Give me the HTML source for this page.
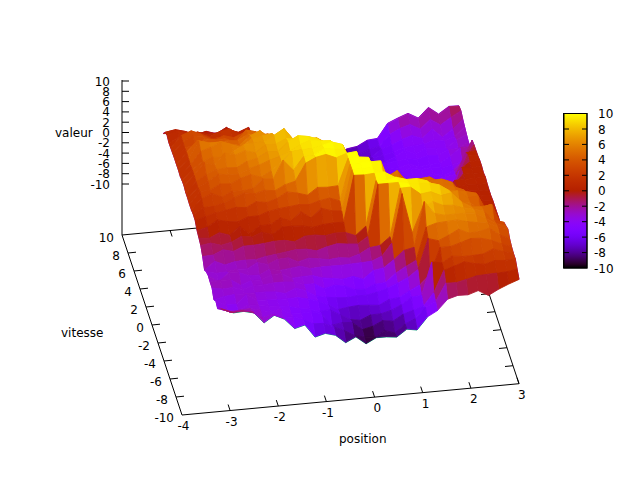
<!DOCTYPE html>
<html><head><meta charset="utf-8"><title>valeur</title>
<style>html,body{margin:0;padding:0;background:#fff}svg{display:block}
.ax line,.ax rect{stroke:#000;stroke-width:1}
.ax text{font-family:"DejaVu Sans","Liberation Sans",sans-serif;font-size:12px;fill:#000;stroke:none}
.sf polygon{stroke-width:0.9;stroke-linejoin:round}
</style></head><body>
<svg width="640" height="480" viewBox="0 0 640 480">
<defs><linearGradient id="pg" x1="0" y1="0" x2="0" y2="1"><stop offset="0.000" stop-color="#ffff00"/><stop offset="0.025" stop-color="#fcec00"/><stop offset="0.050" stop-color="#f9db00"/><stop offset="0.075" stop-color="#f5ca00"/><stop offset="0.100" stop-color="#f2ba00"/><stop offset="0.125" stop-color="#efab00"/><stop offset="0.150" stop-color="#eb9d00"/><stop offset="0.175" stop-color="#e88f00"/><stop offset="0.200" stop-color="#e48300"/><stop offset="0.225" stop-color="#e07700"/><stop offset="0.250" stop-color="#dd6c00"/><stop offset="0.275" stop-color="#d96100"/><stop offset="0.300" stop-color="#d55700"/><stop offset="0.325" stop-color="#d24e00"/><stop offset="0.350" stop-color="#ce4600"/><stop offset="0.375" stop-color="#ca3e00"/><stop offset="0.400" stop-color="#c63700"/><stop offset="0.425" stop-color="#c13000"/><stop offset="0.450" stop-color="#bd2a00"/><stop offset="0.475" stop-color="#b92500"/><stop offset="0.500" stop-color="#b42000"/><stop offset="0.525" stop-color="#b01b28"/><stop offset="0.550" stop-color="#ab174f"/><stop offset="0.575" stop-color="#a61474"/><stop offset="0.600" stop-color="#a11096"/><stop offset="0.625" stop-color="#9c0db4"/><stop offset="0.650" stop-color="#970bce"/><stop offset="0.675" stop-color="#9109e3"/><stop offset="0.700" stop-color="#8c07f3"/><stop offset="0.725" stop-color="#8605fc"/><stop offset="0.750" stop-color="#8004ff"/><stop offset="0.775" stop-color="#7903fc"/><stop offset="0.800" stop-color="#7202f3"/><stop offset="0.825" stop-color="#6b01e3"/><stop offset="0.850" stop-color="#6301ce"/><stop offset="0.875" stop-color="#5a00b4"/><stop offset="0.900" stop-color="#510096"/><stop offset="0.925" stop-color="#460074"/><stop offset="0.950" stop-color="#39004f"/><stop offset="0.975" stop-color="#280028"/><stop offset="1.000" stop-color="#000000"/></linearGradient></defs>
<rect width="640" height="480" fill="#fff"/>
<g class="ax"><line x1="122.0" y1="235.0" x2="459.0" y2="203.7"/>
<line x1="459.0" y1="203.7" x2="519.0" y2="383.7"/>
<line x1="170.1" y1="230.5" x2="172.1" y2="236.5"/>
<line x1="218.3" y1="226.1" x2="220.3" y2="232.1"/>
<line x1="266.4" y1="221.6" x2="268.4" y2="227.6"/>
<line x1="314.6" y1="217.1" x2="316.6" y2="223.1"/>
<line x1="362.7" y1="212.6" x2="364.7" y2="218.6"/>
<line x1="410.9" y1="208.2" x2="412.9" y2="214.2"/>
<line x1="513.0" y1="365.7" x2="505.0" y2="366.5"/>
<line x1="507.0" y1="347.7" x2="499.0" y2="348.5"/>
<line x1="501.0" y1="329.7" x2="493.0" y2="330.5"/>
<line x1="495.0" y1="311.7" x2="487.0" y2="312.5"/>
<line x1="489.0" y1="293.7" x2="481.0" y2="294.5"/>
<line x1="483.0" y1="275.7" x2="475.0" y2="276.5"/>
<line x1="477.0" y1="257.7" x2="469.0" y2="258.5"/>
<line x1="471.0" y1="239.7" x2="463.0" y2="240.5"/>
<line x1="465.0" y1="221.7" x2="457.0" y2="222.5"/></g>
<g class="sf"><polyline points="163.3,133.2 173.5,133.2 183.7,133.2 193.9,133.4 204.1,133.2 214.3,133.2 224.5,133.2 234.7,133.2 244.9,133.2 255.1,155.3 265.3,154.3 275.5,155.9 285.7,156.1 295.9,156.8 306.1,159.7 316.3,158.9 326.5,157.0 336.7,154.9 346.8,148.8 357.0,146.4 367.2,140.2 377.4,138.4 387.6,123.3 397.8,118.0 408.0,113.3 418.2,118.0 428.4,107.4 438.6,114.0 448.8,106.4 459.0,105.7" fill="none" stroke="#9400d3" stroke-width="1"/>
<polyline points="223.3,309.4 221.5,309.1 219.6,308.0 217.7,308.6 215.8,300.7 214.0,299.9 212.1,288.0 210.2,282.1 208.3,275.7 206.5,272.1 204.6,270.0 202.7,256.5 200.8,245.4 199.0,238.1 197.1,230.5 195.2,220.4 193.3,214.4 191.5,210.1 189.6,204.6 187.7,198.2 185.8,192.7 184.0,185.7 182.1,180.5 180.2,176.1 178.3,169.6 176.5,164.5 174.6,158.6 172.7,153.3 170.8,148.0 169.0,143.0 167.1,135.3 165.2,132.3 163.3,133.6" fill="none" stroke="#9400d3" stroke-width="1"/>
<polyline points="519.0,279.4 517.1,269.2 515.3,259.0 513.4,253.3 511.5,246.6 509.6,238.7 507.8,228.9 505.9,225.9 504.0,222.4 502.1,228.5 500.3,222.9 498.4,217.0 496.5,211.6 494.6,205.9 492.8,200.5 490.9,195.7 489.0,189.9 487.1,183.6 485.3,177.0 483.4,172.7 481.5,165.7 479.6,160.0 477.8,155.8 475.9,150.4 474.0,144.9 472.1,140.2 470.3,146.6 468.4,142.0 466.5,134.6 464.6,126.9 462.8,119.5 460.9,110.9 459.0,106.1" fill="none" stroke="#9400d3" stroke-width="1"/>
<polyline points="223.3,309.8 233.5,312.9 243.7,311.4 253.9,312.9 264.1,322.9 274.3,315.3 284.5,319.2 294.7,328.6 304.9,325.0 315.1,337.1 325.3,333.4 335.5,335.3 345.7,342.7 355.9,336.9 366.1,343.8 376.3,337.7 386.5,336.9 396.7,337.1 406.8,329.2 417.0,330.0 427.2,317.4" fill="none" stroke="#009e73" stroke-width="1"/>
<polygon points="450.7,117.5 460.9,110.9 459.0,106.1 448.8,106.8" fill="#a91660" stroke="#a91660"/>
<polygon points="440.5,125.0 450.7,117.5 448.8,106.8 438.6,114.4" fill="#a0109e" stroke="#a0109e"/>
<polygon points="430.3,119.5 440.5,125.0 438.6,114.4 428.4,107.8" fill="#a0109c" stroke="#a0109c"/>
<polygon points="420.1,129.0 430.3,119.5 428.4,107.8 418.2,118.4" fill="#9e0fa8" stroke="#9e0fa8"/>
<polygon points="409.9,124.5 420.1,129.0 418.2,118.4 408.0,113.7" fill="#9b0dbc" stroke="#9b0dbc"/>
<polygon points="399.7,128.6 409.9,124.5 408.0,113.7 397.8,118.4" fill="#9d0eb1" stroke="#9d0eb1"/>
<polygon points="389.5,134.5 399.7,128.6 397.8,118.4 387.6,123.7" fill="#940ad9" stroke="#940ad9"/>
<polygon points="379.3,146.5 389.5,134.5 387.6,123.7 377.4,138.8" fill="#8104ff" stroke="#8104ff"/>
<polygon points="369.1,149.2 379.3,146.5 377.4,138.8 367.2,140.6" fill="#6e02ec" stroke="#6e02ec"/>
<polygon points="358.9,154.4 369.1,149.2 367.2,140.6 357.0,146.8" fill="#6501d5" stroke="#6501d5"/>
<polygon points="348.7,157.4 358.9,154.4 357.0,146.8 346.8,149.2" fill="#5b01b6" stroke="#5b01b6"/>
<polygon points="338.5,162.3 348.7,157.4 346.8,149.2 336.7,155.3" fill="#4f0090" stroke="#4f0090"/>
<polygon points="328.3,163.5 338.5,162.3 336.7,155.3 326.5,157.4" fill="#43006d" stroke="#43006d"/>
<polygon points="318.1,162.8 328.3,163.5 326.5,157.4 316.3,159.3" fill="#43006a" stroke="#43006a"/>
<polygon points="307.9,163.2 318.1,162.8 316.3,159.3 306.1,160.1" fill="#44006f" stroke="#44006f"/>
<polygon points="297.7,163.7 307.9,163.2 306.1,160.1 295.9,157.2" fill="#4a0081" stroke="#4a0081"/>
<polygon points="287.5,155.6 297.7,163.7 295.9,157.2 285.7,156.5" fill="#5800af" stroke="#5800af"/>
<polygon points="277.4,162.7 287.5,155.6 285.7,156.5 275.5,156.3" fill="#5d01be" stroke="#5d01be"/>
<polygon points="267.2,155.2 277.4,162.7 275.5,156.3 265.3,154.7" fill="#6201cd" stroke="#6201cd"/>
<polygon points="257.0,156.9 267.2,155.2 265.3,154.7 255.1,155.7" fill="#6a01e2" stroke="#6a01e2"/>
<polygon points="246.8,131.2 257.0,156.9 255.1,155.7 244.9,133.6" fill="#8a06f6" stroke="#8a06f6"/>
<polygon points="236.6,133.2 246.8,131.2 244.9,133.6 234.7,133.6" fill="#a41285" stroke="#a41285"/>
<polygon points="226.4,127.4 236.6,133.2 234.7,133.6 224.5,133.6" fill="#a7146b" stroke="#a7146b"/>
<polygon points="216.2,133.8 226.4,127.4 224.5,133.6 214.3,133.6" fill="#a91660" stroke="#a91660"/>
<polygon points="206.0,131.3 216.2,133.8 214.3,133.6 204.1,133.6" fill="#a91560" stroke="#a91560"/>
<polygon points="195.8,135.0 206.0,131.3 204.1,133.6 193.9,133.8" fill="#aa1658" stroke="#aa1658"/>
<polygon points="185.6,131.5 195.8,135.0 193.9,133.8 183.7,133.6" fill="#ac184b" stroke="#ac184b"/>
<polygon points="175.4,129.7 185.6,131.5 183.7,133.6 173.5,133.6" fill="#b01b27" stroke="#b01b27"/>
<polygon points="165.2,132.3 175.4,129.7 173.5,133.6 163.3,133.6" fill="#b11d1c" stroke="#b11d1c"/>
<polygon points="452.6,129.2 462.8,119.5 460.9,110.9 450.7,117.5" fill="#a3118e" stroke="#a3118e"/>
<polygon points="442.4,137.2 452.6,129.2 450.7,117.5 440.5,125.0" fill="#940ad9" stroke="#940ad9"/>
<polygon points="432.2,129.1 442.4,137.2 440.5,125.0 430.3,119.5" fill="#950ad5" stroke="#950ad5"/>
<polygon points="422.0,138.6 432.2,129.1 430.3,119.5 420.1,129.0" fill="#940ad8" stroke="#940ad8"/>
<polygon points="411.8,135.5 422.0,138.6 420.1,129.0 409.9,124.5" fill="#9008e6" stroke="#9008e6"/>
<polygon points="401.6,139.5 411.8,135.5 409.9,124.5 399.7,128.6" fill="#9209e1" stroke="#9209e1"/>
<polygon points="391.4,145.3 401.6,139.5 399.7,128.6 389.5,134.5" fill="#8906f7" stroke="#8906f7"/>
<polygon points="381.2,149.1 391.4,145.3 389.5,134.5 379.3,146.5" fill="#7b03fd" stroke="#7b03fd"/>
<polygon points="371.0,157.7 381.2,149.1 379.3,146.5 369.1,149.2" fill="#6b01e4" stroke="#6b01e4"/>
<polygon points="360.8,157.4 371.0,157.7 369.1,149.2 358.9,154.4" fill="#6101ca" stroke="#6101ca"/>
<polygon points="350.6,160.1 360.8,157.4 358.9,154.4 348.7,157.4" fill="#5c01b9" stroke="#5c01b9"/>
<polygon points="340.4,166.7 350.6,160.1 348.7,157.4 338.5,162.3" fill="#4f0091" stroke="#4f0091"/>
<polygon points="330.2,163.7 340.4,166.7 338.5,162.3 328.3,163.5" fill="#49007d" stroke="#49007d"/>
<polygon points="320.0,164.9 330.2,163.7 328.3,163.5 318.1,162.8" fill="#4e008e" stroke="#4e008e"/>
<polygon points="309.8,162.5 320.0,164.9 318.1,162.8 307.9,163.2" fill="#53009f" stroke="#53009f"/>
<polygon points="299.6,160.6 309.8,162.5 307.9,163.2 297.7,163.7" fill="#5a00b4" stroke="#5a00b4"/>
<polygon points="289.4,158.4 299.6,160.6 297.7,163.7 287.5,155.6" fill="#6701d9" stroke="#6701d9"/>
<polygon points="279.2,158.3 289.4,158.4 287.5,155.6 277.4,162.7" fill="#6c01e6" stroke="#6c01e6"/>
<polygon points="269.0,154.8 279.2,158.3 277.4,162.7 267.2,155.2" fill="#7202f2" stroke="#7202f2"/>
<polygon points="258.8,150.3 269.0,154.8 267.2,155.2 257.0,156.9" fill="#7d04ff" stroke="#7d04ff"/>
<polygon points="248.6,127.4 258.8,150.3 257.0,156.9 246.8,131.2" fill="#9c0db5" stroke="#9c0db5"/>
<polygon points="238.4,132.3 248.6,127.4 246.8,131.2 236.6,133.2" fill="#b21d18" stroke="#b21d18"/>
<polygon points="228.3,129.7 238.4,132.3 236.6,133.2 226.4,127.4" fill="#b41f04" stroke="#b41f04"/>
<polygon points="218.1,132.7 228.3,129.7 226.4,127.4 216.2,133.8" fill="#b52100" stroke="#b52100"/>
<polygon points="207.9,134.6 218.1,132.7 216.2,133.8 206.0,131.3" fill="#b31f0c" stroke="#b31f0c"/>
<polygon points="197.7,132.1 207.9,134.6 206.0,131.3 195.8,135.0" fill="#b42000" stroke="#b42000"/>
<polygon points="187.5,134.1 197.7,132.1 195.8,135.0 185.6,131.5" fill="#b62200" stroke="#b62200"/>
<polygon points="177.3,131.2 187.5,134.1 185.6,131.5 175.4,129.7" fill="#ba2700" stroke="#ba2700"/>
<polygon points="167.1,135.3 177.3,131.2 175.4,129.7 165.2,132.3" fill="#bb2800" stroke="#bb2800"/>
<polygon points="454.4,136.8 464.6,126.9 462.8,119.5 452.6,129.2" fill="#9c0db4" stroke="#9c0db4"/>
<polygon points="444.2,141.1 454.4,136.8 452.6,129.2 442.4,137.2" fill="#8d07ef" stroke="#8d07ef"/>
<polygon points="434.0,140.0 444.2,141.1 442.4,137.2 432.2,129.1" fill="#8e07ee" stroke="#8e07ee"/>
<polygon points="423.8,144.3 434.0,140.0 432.2,129.1 422.0,138.6" fill="#8d07ef" stroke="#8d07ef"/>
<polygon points="413.6,145.7 423.8,144.3 422.0,138.6 411.8,135.5" fill="#8806f8" stroke="#8806f8"/>
<polygon points="403.5,147.7 413.6,145.7 411.8,135.5 401.6,139.5" fill="#8806f9" stroke="#8806f9"/>
<polygon points="393.3,151.9 403.5,147.7 401.6,139.5 391.4,145.3" fill="#8104ff" stroke="#8104ff"/>
<polygon points="383.1,155.6 393.3,151.9 391.4,145.3 381.2,149.1" fill="#7803fb" stroke="#7803fb"/>
<polygon points="372.9,158.0 383.1,155.6 381.2,149.1 371.0,157.7" fill="#6e02eb" stroke="#6e02eb"/>
<polygon points="362.7,168.1 372.9,158.0 371.0,157.7 360.8,157.4" fill="#6101ca" stroke="#6101ca"/>
<polygon points="352.5,167.9 362.7,168.1 360.8,157.4 350.6,160.1" fill="#5a00b4" stroke="#5a00b4"/>
<polygon points="342.3,174.0 352.5,167.9 350.6,160.1 340.4,166.7" fill="#4f0092" stroke="#4f0092"/>
<polygon points="332.1,169.9 342.3,174.0 340.4,166.7 330.2,163.7" fill="#4e008c" stroke="#4e008c"/>
<polygon points="321.9,168.1 332.1,169.9 330.2,163.7 320.0,164.9" fill="#5800af" stroke="#5800af"/>
<polygon points="311.7,161.2 321.9,168.1 320.0,164.9 309.8,162.5" fill="#6401d2" stroke="#6401d2"/>
<polygon points="301.5,157.7 311.7,161.2 309.8,162.5 299.6,160.6" fill="#7202f2" stroke="#7202f2"/>
<polygon points="291.3,156.4 301.5,157.7 299.6,160.6 289.4,158.4" fill="#7a03fd" stroke="#7a03fd"/>
<polygon points="281.1,160.8 291.3,156.4 289.4,158.4 279.2,158.3" fill="#7c03fe" stroke="#7c03fe"/>
<polygon points="270.9,163.3 281.1,160.8 279.2,158.3 269.0,154.8" fill="#7c03fe" stroke="#7c03fe"/>
<polygon points="260.7,148.2 270.9,163.3 269.0,154.8 258.8,150.3" fill="#8b07f4" stroke="#8b07f4"/>
<polygon points="250.5,134.0 260.7,148.2 258.8,150.3 248.6,127.4" fill="#aa1658" stroke="#aa1658"/>
<polygon points="240.3,134.9 250.5,134.0 248.6,127.4 238.4,132.3" fill="#b92600" stroke="#b92600"/>
<polygon points="230.1,129.2 240.3,134.9 238.4,132.3 228.3,129.7" fill="#bc2900" stroke="#bc2900"/>
<polygon points="219.9,131.6 230.1,129.2 228.3,129.7 218.1,132.7" fill="#bf2d00" stroke="#bf2d00"/>
<polygon points="209.7,136.8 219.9,131.6 218.1,132.7 207.9,134.6" fill="#bb2800" stroke="#bb2800"/>
<polygon points="199.5,133.7 209.7,136.8 207.9,134.6 197.7,132.1" fill="#bc2900" stroke="#bc2900"/>
<polygon points="189.3,136.8 199.5,133.7 197.7,132.1 187.5,134.1" fill="#be2c00" stroke="#be2c00"/>
<polygon points="179.1,136.9 189.3,136.8 187.5,134.1 177.3,131.2" fill="#bf2d00" stroke="#bf2d00"/>
<polygon points="169.0,143.0 179.1,136.9 177.3,131.2 167.1,135.3" fill="#bd2a00" stroke="#bd2a00"/>
<polygon points="456.3,139.9 466.5,134.6 464.6,126.9 454.4,136.8" fill="#9b0dbd" stroke="#9b0dbd"/>
<polygon points="446.1,148.6 456.3,139.9 454.4,136.8 444.2,141.1" fill="#8e07ee" stroke="#8e07ee"/>
<polygon points="435.9,148.4 446.1,148.6 444.2,141.1 434.0,140.0" fill="#8906f7" stroke="#8906f7"/>
<polygon points="425.7,148.3 435.9,148.4 434.0,140.0 423.8,144.3" fill="#8906f7" stroke="#8906f7"/>
<polygon points="415.5,153.7 425.7,148.3 423.8,144.3 413.6,145.7" fill="#8505fc" stroke="#8505fc"/>
<polygon points="405.3,150.3 415.5,153.7 413.6,145.7 403.5,147.7" fill="#8405fd" stroke="#8405fd"/>
<polygon points="395.1,156.8 405.3,150.3 403.5,147.7 393.3,151.9" fill="#8104ff" stroke="#8104ff"/>
<polygon points="384.9,162.6 395.1,156.8 393.3,151.9 383.1,155.6" fill="#7703f9" stroke="#7703f9"/>
<polygon points="374.7,166.5 384.9,162.6 383.1,155.6 372.9,158.0" fill="#6e02eb" stroke="#6e02eb"/>
<polygon points="364.5,166.5 374.7,166.5 372.9,158.0 362.7,168.1" fill="#6501d4" stroke="#6501d4"/>
<polygon points="354.3,174.6 364.5,166.5 362.7,168.1 352.5,167.9" fill="#5900b1" stroke="#5900b1"/>
<polygon points="344.2,170.1 354.3,174.6 352.5,167.9 342.3,174.0" fill="#5400a0" stroke="#5400a0"/>
<polygon points="334.0,173.2 344.2,170.1 342.3,174.0 332.1,169.9" fill="#5700aa" stroke="#5700aa"/>
<polygon points="323.8,168.9 334.0,173.2 332.1,169.9 321.9,168.1" fill="#6001c7" stroke="#6001c7"/>
<polygon points="313.6,154.8 323.8,168.9 321.9,168.1 311.7,161.2" fill="#7703fa" stroke="#7703fa"/>
<polygon points="303.4,156.1 313.6,154.8 311.7,161.2 301.5,157.7" fill="#8806fa" stroke="#8806fa"/>
<polygon points="293.2,154.1 303.4,156.1 301.5,157.7 291.3,156.4" fill="#8d07f0" stroke="#8d07f0"/>
<polygon points="283.0,151.1 293.2,154.1 291.3,156.4 281.1,160.8" fill="#9008e7" stroke="#9008e7"/>
<polygon points="272.8,156.6 283.0,151.1 281.1,160.8 270.9,163.3" fill="#8d07f0" stroke="#8d07f0"/>
<polygon points="262.6,150.8 272.8,156.6 270.9,163.3 260.7,148.2" fill="#960bd2" stroke="#960bd2"/>
<polygon points="252.4,134.1 262.6,150.8 260.7,148.2 250.5,134.0" fill="#b11c1e" stroke="#b11c1e"/>
<polygon points="242.2,134.3 252.4,134.1 250.5,134.0 240.3,134.9" fill="#bf2d00" stroke="#bf2d00"/>
<polygon points="232.0,138.4 242.2,134.3 240.3,134.9 230.1,129.2" fill="#c13000" stroke="#c13000"/>
<polygon points="221.8,137.1 232.0,138.4 230.1,129.2 219.9,131.6" fill="#c33300" stroke="#c33300"/>
<polygon points="211.6,138.8 221.8,137.1 219.9,131.6 209.7,136.8" fill="#c13000" stroke="#c13000"/>
<polygon points="201.4,134.2 211.6,138.8 209.7,136.8 199.5,133.7" fill="#c33300" stroke="#c33300"/>
<polygon points="191.2,130.9 201.4,134.2 199.5,133.7 189.3,136.8" fill="#c83b00" stroke="#c83b00"/>
<polygon points="181.0,135.8 191.2,130.9 189.3,136.8 179.1,136.9" fill="#c73a00" stroke="#c73a00"/>
<polygon points="170.8,148.0 181.0,135.8 179.1,136.9 169.0,143.0" fill="#bf2d00" stroke="#bf2d00"/>
<polygon points="458.2,148.6 468.4,142.0 466.5,134.6 456.3,139.9" fill="#980cc8" stroke="#980cc8"/>
<polygon points="448.0,149.8 458.2,148.6 456.3,139.9 446.1,148.6" fill="#8f08eb" stroke="#8f08eb"/>
<polygon points="437.8,155.5 448.0,149.8 446.1,148.6 435.9,148.4" fill="#8806f9" stroke="#8806f9"/>
<polygon points="427.6,155.6 437.8,155.5 435.9,148.4 425.7,148.3" fill="#8706fa" stroke="#8706fa"/>
<polygon points="417.4,159.3 427.6,155.6 425.7,148.3 415.5,153.7" fill="#8405fd" stroke="#8405fd"/>
<polygon points="407.2,158.7 417.4,159.3 415.5,153.7 405.3,150.3" fill="#8305fe" stroke="#8305fe"/>
<polygon points="397.0,161.0 407.2,158.7 405.3,150.3 395.1,156.8" fill="#8205fe" stroke="#8205fe"/>
<polygon points="386.8,163.2 397.0,161.0 395.1,156.8 384.9,162.6" fill="#7a03fd" stroke="#7a03fd"/>
<polygon points="376.6,162.6 386.8,163.2 384.9,162.6 374.7,166.5" fill="#7502f8" stroke="#7502f8"/>
<polygon points="366.4,172.5 376.6,162.6 374.7,166.5 364.5,166.5" fill="#6f02ed" stroke="#6f02ed"/>
<polygon points="356.2,175.4 366.4,172.5 364.5,166.5 354.3,174.6" fill="#6201cc" stroke="#6201cc"/>
<polygon points="346.0,174.2 356.2,175.4 354.3,174.6 344.2,170.1" fill="#6101c9" stroke="#6101c9"/>
<polygon points="335.8,174.6 346.0,174.2 344.2,170.1 334.0,173.2" fill="#6601d6" stroke="#6601d6"/>
<polygon points="325.6,166.1 335.8,174.6 334.0,173.2 323.8,168.9" fill="#6f02ed" stroke="#6f02ed"/>
<polygon points="315.4,157.2 325.6,166.1 323.8,168.9 313.6,154.8" fill="#8906f8" stroke="#8906f8"/>
<polygon points="305.2,153.6 315.4,157.2 313.6,154.8 303.4,156.1" fill="#980cc7" stroke="#980cc7"/>
<polygon points="295.0,151.4 305.2,153.6 303.4,156.1 293.2,154.1" fill="#9e0eac" stroke="#9e0eac"/>
<polygon points="284.9,153.5 295.0,151.4 293.2,154.1 283.0,151.1" fill="#a21191" stroke="#a21191"/>
<polygon points="274.7,152.7 284.9,153.5 283.0,151.1 272.8,156.6" fill="#a21192" stroke="#a21192"/>
<polygon points="264.5,145.7 274.7,152.7 272.8,156.6 262.6,150.8" fill="#a81569" stroke="#a81569"/>
<polygon points="254.3,136.7 264.5,145.7 262.6,150.8 252.4,134.1" fill="#bb2700" stroke="#bb2700"/>
<polygon points="244.1,132.5 254.3,136.7 252.4,134.1 242.2,134.3" fill="#c83c00" stroke="#c83c00"/>
<polygon points="233.9,137.7 244.1,132.5 242.2,134.3 232.0,138.4" fill="#c83b00" stroke="#c83b00"/>
<polygon points="223.7,135.7 233.9,137.7 232.0,138.4 221.8,137.1" fill="#c73900" stroke="#c73900"/>
<polygon points="213.5,140.7 223.7,135.7 221.8,137.1 211.6,138.8" fill="#c73900" stroke="#c73900"/>
<polygon points="203.3,136.4 213.5,140.7 211.6,138.8 201.4,134.2" fill="#c93e00" stroke="#c93e00"/>
<polygon points="193.1,135.8 203.3,136.4 201.4,134.2 191.2,130.9" fill="#d04a00" stroke="#d04a00"/>
<polygon points="182.9,142.0 193.1,135.8 191.2,130.9 181.0,135.8" fill="#ce4800" stroke="#ce4800"/>
<polygon points="172.7,153.3 182.9,142.0 181.0,135.8 170.8,148.0" fill="#c23200" stroke="#c23200"/>
<polygon points="460.1,147.7 470.3,146.6 468.4,142.0 458.2,148.6" fill="#9a0cc1" stroke="#9a0cc1"/>
<polygon points="449.9,156.6 460.1,147.7 458.2,148.6 448.0,149.8" fill="#9209e0" stroke="#9209e0"/>
<polygon points="439.7,163.2 449.9,156.6 448.0,149.8 437.8,155.5" fill="#8806f9" stroke="#8806f9"/>
<polygon points="429.5,164.5 439.7,163.2 437.8,155.5 427.6,155.6" fill="#8204ff" stroke="#8204ff"/>
<polygon points="419.3,166.9 429.5,164.5 427.6,155.6 417.4,159.3" fill="#8004ff" stroke="#8004ff"/>
<polygon points="409.1,164.0 419.3,166.9 417.4,159.3 407.2,158.7" fill="#8004ff" stroke="#8004ff"/>
<polygon points="398.9,168.0 409.1,164.0 407.2,158.7 397.0,161.0" fill="#8104ff" stroke="#8104ff"/>
<polygon points="388.7,169.3 398.9,168.0 397.0,161.0 386.8,163.2" fill="#7d04ff" stroke="#7d04ff"/>
<polygon points="378.5,173.5 388.7,169.3 386.8,163.2 376.6,162.6" fill="#7b03fe" stroke="#7b03fe"/>
<polygon points="368.3,178.4 378.5,173.5 376.6,162.6 366.4,172.5" fill="#7102f1" stroke="#7102f1"/>
<polygon points="358.1,176.1 368.3,178.4 366.4,172.5 356.2,175.4" fill="#6901df" stroke="#6901df"/>
<polygon points="347.9,178.0 358.1,176.1 356.2,175.4 346.0,174.2" fill="#6b01e4" stroke="#6b01e4"/>
<polygon points="337.7,179.3 347.9,178.0 346.0,174.2 335.8,174.6" fill="#6c01e6" stroke="#6c01e6"/>
<polygon points="327.5,160.4 337.7,179.3 335.8,174.6 325.6,166.1" fill="#8004ff" stroke="#8004ff"/>
<polygon points="317.3,159.8 327.5,160.4 325.6,166.1 315.4,157.2" fill="#970bcf" stroke="#970bcf"/>
<polygon points="307.1,151.4 317.3,159.8 315.4,157.2 305.2,153.6" fill="#a31287" stroke="#a31287"/>
<polygon points="296.9,147.8 307.1,151.4 305.2,153.6 295.0,151.4" fill="#ae193b" stroke="#ae193b"/>
<polygon points="286.7,145.5 296.9,147.8 295.0,151.4 284.9,153.5" fill="#b21d15" stroke="#b21d15"/>
<polygon points="276.5,148.9 286.7,145.5 284.9,153.5 274.7,152.7" fill="#b31e0f" stroke="#b31e0f"/>
<polygon points="266.3,142.1 276.5,148.9 274.7,152.7 264.5,145.7" fill="#b92500" stroke="#b92500"/>
<polygon points="256.1,131.8 266.3,142.1 264.5,145.7 254.3,136.7" fill="#c83c00" stroke="#c83c00"/>
<polygon points="245.9,130.1 256.1,131.8 254.3,136.7 244.1,132.5" fill="#d35300" stroke="#d35300"/>
<polygon points="235.8,142.2 245.9,130.1 244.1,132.5 233.9,137.7" fill="#d04c00" stroke="#d04c00"/>
<polygon points="225.6,138.7 235.8,142.2 233.9,137.7 223.7,135.7" fill="#cd4600" stroke="#cd4600"/>
<polygon points="215.4,139.8 225.6,138.7 223.7,135.7 213.5,140.7" fill="#cf4800" stroke="#cf4800"/>
<polygon points="205.2,138.9 215.4,139.8 213.5,140.7 203.3,136.4" fill="#d04a00" stroke="#d04a00"/>
<polygon points="195.0,145.0 205.2,138.9 203.3,136.4 193.1,135.8" fill="#d14d00" stroke="#d14d00"/>
<polygon points="184.8,148.0 195.0,145.0 193.1,135.8 182.9,142.0" fill="#cd4500" stroke="#cd4500"/>
<polygon points="174.6,158.6 184.8,148.0 182.9,142.0 172.7,153.3" fill="#c23200" stroke="#c23200"/>
<polygon points="461.9,162.0 472.1,140.2 470.3,146.6 460.1,147.7" fill="#9f0fa3" stroke="#9f0fa3"/>
<polygon points="451.7,164.7 461.9,162.0 460.1,147.7 449.9,156.6" fill="#8f08ea" stroke="#8f08ea"/>
<polygon points="441.5,167.9 451.7,164.7 449.9,156.6 439.7,163.2" fill="#8505fd" stroke="#8505fd"/>
<polygon points="431.3,167.6 441.5,167.9 439.7,163.2 429.5,164.5" fill="#8104ff" stroke="#8104ff"/>
<polygon points="421.1,169.5 431.3,167.6 429.5,164.5 419.3,166.9" fill="#8004ff" stroke="#8004ff"/>
<polygon points="411.0,168.1 421.1,169.5 419.3,166.9 409.1,164.0" fill="#8205fe" stroke="#8205fe"/>
<polygon points="400.8,171.9 411.0,168.1 409.1,164.0 398.9,168.0" fill="#8205fe" stroke="#8205fe"/>
<polygon points="390.6,177.4 400.8,171.9 398.9,168.0 388.7,169.3" fill="#7c03fe" stroke="#7c03fe"/>
<polygon points="380.4,180.5 390.6,177.4 388.7,169.3 378.5,173.5" fill="#7502f7" stroke="#7502f7"/>
<polygon points="370.2,180.9 380.4,180.5 378.5,173.5 368.3,178.4" fill="#6f02ec" stroke="#6f02ec"/>
<polygon points="360.0,180.0 370.2,180.9 368.3,178.4 358.1,176.1" fill="#7002ef" stroke="#7002ef"/>
<polygon points="349.8,181.1 360.0,180.0 358.1,176.1 347.9,178.0" fill="#7302f4" stroke="#7302f4"/>
<polygon points="339.6,181.8 349.8,181.1 347.9,178.0 337.7,179.3" fill="#7202f2" stroke="#7202f2"/>
<polygon points="329.4,164.8 339.6,181.8 337.7,179.3 327.5,160.4" fill="#8a06f7" stroke="#8a06f7"/>
<polygon points="319.2,153.9 329.4,164.8 327.5,160.4 317.3,159.8" fill="#a41282" stroke="#a41282"/>
<polygon points="309.0,153.1 319.2,153.9 317.3,159.8 307.1,151.4" fill="#b01b28" stroke="#b01b28"/>
<polygon points="298.8,148.7 309.0,153.1 307.1,151.4 296.9,147.8" fill="#b92500" stroke="#b92500"/>
<polygon points="288.6,145.1 298.8,148.7 296.9,147.8 286.7,145.5" fill="#c02f00" stroke="#c02f00"/>
<polygon points="278.4,148.1 288.6,145.1 286.7,145.5 276.5,148.9" fill="#c23100" stroke="#c23100"/>
<polygon points="268.2,133.9 278.4,148.1 276.5,148.9 266.3,142.1" fill="#c93d00" stroke="#c93d00"/>
<polygon points="258.0,135.5 268.2,133.9 266.3,142.1 256.1,131.8" fill="#d65800" stroke="#d65800"/>
<polygon points="247.8,134.2 258.0,135.5 256.1,131.8 245.9,130.1" fill="#db6700" stroke="#db6700"/>
<polygon points="237.6,140.7 247.8,134.2 245.9,130.1 235.8,142.2" fill="#d75c00" stroke="#d75c00"/>
<polygon points="227.4,140.7 237.6,140.7 235.8,142.2 225.6,138.7" fill="#d35200" stroke="#d35200"/>
<polygon points="217.2,143.2 227.4,140.7 225.6,138.7 215.4,139.8" fill="#d45500" stroke="#d45500"/>
<polygon points="207.0,142.3 217.2,143.2 215.4,139.8 205.2,138.9" fill="#d55700" stroke="#d55700"/>
<polygon points="196.8,140.8 207.0,142.3 205.2,138.9 195.0,145.0" fill="#d55800" stroke="#d55800"/>
<polygon points="186.6,152.2 196.8,140.8 195.0,145.0 184.8,148.0" fill="#d04a00" stroke="#d04a00"/>
<polygon points="176.5,164.5 186.6,152.2 184.8,148.0 174.6,158.6" fill="#c33200" stroke="#c33200"/>
<polygon points="463.8,159.7 474.0,144.9 472.1,140.2 461.9,162.0" fill="#a5137c" stroke="#a5137c"/>
<polygon points="453.6,170.2 463.8,159.7 461.9,162.0 451.7,164.7" fill="#8d07ef" stroke="#8d07ef"/>
<polygon points="443.4,176.3 453.6,170.2 451.7,164.7 441.5,167.9" fill="#8205fe" stroke="#8205fe"/>
<polygon points="433.2,173.5 443.4,176.3 441.5,167.9 431.3,167.6" fill="#8104ff" stroke="#8104ff"/>
<polygon points="423.0,176.9 433.2,173.5 431.3,167.6 421.1,169.5" fill="#8204ff" stroke="#8204ff"/>
<polygon points="412.8,177.3 423.0,176.9 421.1,169.5 411.0,168.1" fill="#8204ff" stroke="#8204ff"/>
<polygon points="402.6,179.2 412.8,177.3 411.0,168.1 400.8,171.9" fill="#8104ff" stroke="#8104ff"/>
<polygon points="392.4,186.5 402.6,179.2 400.8,171.9 390.6,177.4" fill="#7803fb" stroke="#7803fb"/>
<polygon points="382.2,183.2 392.4,186.5 390.6,177.4 380.4,180.5" fill="#7202f2" stroke="#7202f2"/>
<polygon points="372.0,186.1 382.2,183.2 380.4,180.5 370.2,180.9" fill="#7202f3" stroke="#7202f3"/>
<polygon points="361.8,190.1 372.0,186.1 370.2,180.9 360.0,180.0" fill="#7102f0" stroke="#7102f0"/>
<polygon points="351.7,188.3 361.8,190.1 360.0,180.0 349.8,181.1" fill="#7202f2" stroke="#7202f2"/>
<polygon points="341.5,179.6 351.7,188.3 349.8,181.1 339.6,181.8" fill="#7a03fd" stroke="#7a03fd"/>
<polygon points="331.3,162.6 341.5,179.6 339.6,181.8 329.4,164.8" fill="#950ad8" stroke="#950ad8"/>
<polygon points="321.1,149.9 331.3,162.6 329.4,164.8 319.2,153.9" fill="#b21e12" stroke="#b21e12"/>
<polygon points="310.9,149.2 321.1,149.9 319.2,153.9 309.0,153.1" fill="#bf2c00" stroke="#bf2c00"/>
<polygon points="300.7,142.6 310.9,149.2 309.0,153.1 298.8,148.7" fill="#c53700" stroke="#c53700"/>
<polygon points="290.5,145.3 300.7,142.6 298.8,148.7 288.6,145.1" fill="#cb4200" stroke="#cb4200"/>
<polygon points="280.3,146.9 290.5,145.3 288.6,145.1 278.4,148.1" fill="#cb4200" stroke="#cb4200"/>
<polygon points="270.1,138.0 280.3,146.9 278.4,148.1 268.2,133.9" fill="#d45400" stroke="#d45400"/>
<polygon points="259.9,130.7 270.1,138.0 268.2,133.9 258.0,135.5" fill="#e07400" stroke="#e07400"/>
<polygon points="249.7,136.0 259.9,130.7 258.0,135.5 247.8,134.2" fill="#e27a00" stroke="#e27a00"/>
<polygon points="239.5,145.3 249.7,136.0 247.8,134.2 237.6,140.7" fill="#dc6900" stroke="#dc6900"/>
<polygon points="229.3,143.9 239.5,145.3 237.6,140.7 227.4,140.7" fill="#d85f00" stroke="#d85f00"/>
<polygon points="219.1,142.1 229.3,143.9 227.4,140.7 217.2,143.2" fill="#da6300" stroke="#da6300"/>
<polygon points="208.9,143.1 219.1,142.1 217.2,143.2 207.0,142.3" fill="#db6600" stroke="#db6600"/>
<polygon points="198.7,140.9 208.9,143.1 207.0,142.3 196.8,140.8" fill="#de6e00" stroke="#de6e00"/>
<polygon points="188.5,158.4 198.7,140.9 196.8,140.8 186.6,152.2" fill="#d65800" stroke="#d65800"/>
<polygon points="178.3,169.6 188.5,158.4 186.6,152.2 176.5,164.5" fill="#c33300" stroke="#c33300"/>
<polygon points="465.7,153.1 475.9,150.4 474.0,144.9 463.8,159.7" fill="#af1b2f" stroke="#af1b2f"/>
<polygon points="455.5,174.5 465.7,153.1 463.8,159.7 453.6,170.2" fill="#990cc5" stroke="#990cc5"/>
<polygon points="445.3,176.8 455.5,174.5 453.6,170.2 443.4,176.3" fill="#8505fd" stroke="#8505fd"/>
<polygon points="435.1,180.1 445.3,176.8 443.4,176.3 433.2,173.5" fill="#8204ff" stroke="#8204ff"/>
<polygon points="424.9,181.3 435.1,180.1 433.2,173.5 423.0,176.9" fill="#8104ff" stroke="#8104ff"/>
<polygon points="414.7,178.1 424.9,181.3 423.0,176.9 412.8,177.3" fill="#8205fe" stroke="#8205fe"/>
<polygon points="404.5,185.0 414.7,178.1 412.8,177.3 402.6,179.2" fill="#8104ff" stroke="#8104ff"/>
<polygon points="394.3,186.7 404.5,185.0 402.6,179.2 392.4,186.5" fill="#7803fb" stroke="#7803fb"/>
<polygon points="384.1,187.9 394.3,186.7 392.4,186.5 382.2,183.2" fill="#7602f8" stroke="#7602f8"/>
<polygon points="373.9,193.2 384.1,187.9 382.2,183.2 372.0,186.1" fill="#7402f6" stroke="#7402f6"/>
<polygon points="363.7,181.6 373.9,193.2 372.0,186.1 361.8,190.1" fill="#7603f9" stroke="#7603f9"/>
<polygon points="353.5,191.1 363.7,181.6 361.8,190.1 351.7,188.3" fill="#7903fc" stroke="#7903fc"/>
<polygon points="343.3,178.4 353.5,191.1 351.7,188.3 341.5,179.6" fill="#8405fe" stroke="#8405fe"/>
<polygon points="333.1,159.4 343.3,178.4 341.5,179.6 331.3,162.6" fill="#a41281" stroke="#a41281"/>
<polygon points="322.9,152.1 333.1,159.4 331.3,162.6 321.1,149.9" fill="#bf2d00" stroke="#bf2d00"/>
<polygon points="312.7,146.5 322.9,152.1 321.1,149.9 310.9,149.2" fill="#cb4100" stroke="#cb4100"/>
<polygon points="302.5,140.7 312.7,146.5 310.9,149.2 300.7,142.6" fill="#d45300" stroke="#d45300"/>
<polygon points="292.4,139.6 302.5,140.7 300.7,142.6 290.5,145.3" fill="#d96100" stroke="#d96100"/>
<polygon points="282.2,143.7 292.4,139.6 290.5,145.3 280.3,146.9" fill="#d85d00" stroke="#d85d00"/>
<polygon points="272.0,133.5 282.2,143.7 280.3,146.9 270.1,138.0" fill="#de6f00" stroke="#de6f00"/>
<polygon points="261.8,136.0 272.0,133.5 270.1,138.0 259.9,130.7" fill="#e88f00" stroke="#e88f00"/>
<polygon points="251.6,138.5 261.8,136.0 259.9,130.7 249.7,136.0" fill="#e89000" stroke="#e89000"/>
<polygon points="241.4,147.2 251.6,138.5 249.7,136.0 239.5,145.3" fill="#e07600" stroke="#e07600"/>
<polygon points="231.2,144.6 241.4,147.2 239.5,145.3 229.3,143.9" fill="#dd6b00" stroke="#dd6b00"/>
<polygon points="221.0,141.7 231.2,144.6 229.3,143.9 219.1,142.1" fill="#e17800" stroke="#e17800"/>
<polygon points="210.8,147.4 221.0,141.7 219.1,142.1 208.9,143.1" fill="#e27a00" stroke="#e27a00"/>
<polygon points="200.6,151.3 210.8,147.4 208.9,143.1 198.7,140.9" fill="#e07500" stroke="#e07500"/>
<polygon points="190.4,165.1 200.6,151.3 198.7,140.9 188.5,158.4" fill="#d55800" stroke="#d55800"/>
<polygon points="180.2,176.1 190.4,165.1 188.5,158.4 178.3,169.6" fill="#c23200" stroke="#c23200"/>
<polygon points="467.6,155.0 477.8,155.8 475.9,150.4 465.7,153.1" fill="#b62200" stroke="#b62200"/>
<polygon points="457.4,178.5 467.6,155.0 465.7,153.1 455.5,174.5" fill="#a2118e" stroke="#a2118e"/>
<polygon points="447.2,182.2 457.4,178.5 455.5,174.5 445.3,176.8" fill="#8a06f6" stroke="#8a06f6"/>
<polygon points="437.0,180.9 447.2,182.2 445.3,176.8 435.1,180.1" fill="#8706fa" stroke="#8706fa"/>
<polygon points="426.8,181.9 437.0,180.9 435.1,180.1 424.9,181.3" fill="#8706fa" stroke="#8706fa"/>
<polygon points="416.6,182.8 426.8,181.9 424.9,181.3 414.7,178.1" fill="#8906f7" stroke="#8906f7"/>
<polygon points="406.4,187.4 416.6,182.8 414.7,178.1 404.5,185.0" fill="#8605fb" stroke="#8605fb"/>
<polygon points="396.2,190.5 406.4,187.4 404.5,185.0 394.3,186.7" fill="#7e04ff" stroke="#7e04ff"/>
<polygon points="386.0,183.6 396.2,190.5 394.3,186.7 384.1,187.9" fill="#8104ff" stroke="#8104ff"/>
<polygon points="375.8,191.0 386.0,183.6 384.1,187.9 373.9,193.2" fill="#7f04ff" stroke="#7f04ff"/>
<polygon points="365.6,181.3 375.8,191.0 373.9,193.2 363.7,181.6" fill="#8706fb" stroke="#8706fb"/>
<polygon points="355.4,184.2 365.6,181.3 363.7,181.6 353.5,191.1" fill="#8e08ed" stroke="#8e08ed"/>
<polygon points="345.2,176.9 355.4,184.2 353.5,191.1 343.3,178.4" fill="#940ad9" stroke="#940ad9"/>
<polygon points="335.0,156.2 345.2,176.9 343.3,178.4 333.1,159.4" fill="#b31e0c" stroke="#b31e0c"/>
<polygon points="324.8,145.6 335.0,156.2 333.1,159.4 322.9,152.1" fill="#cc4300" stroke="#cc4300"/>
<polygon points="314.6,143.2 324.8,145.6 322.9,152.1 312.7,146.5" fill="#d75d00" stroke="#d75d00"/>
<polygon points="304.4,142.2 314.6,143.2 312.7,146.5 302.5,140.7" fill="#de6f00" stroke="#de6f00"/>
<polygon points="294.2,140.6 304.4,142.2 302.5,140.7 292.4,139.6" fill="#e37e00" stroke="#e37e00"/>
<polygon points="284.0,128.6 294.2,140.6 292.4,139.6 282.2,143.7" fill="#e89000" stroke="#e89000"/>
<polygon points="273.8,135.5 284.0,128.6 282.2,143.7 272.0,133.5" fill="#eda300" stroke="#eda300"/>
<polygon points="263.6,142.1 273.8,135.5 272.0,133.5 261.8,136.0" fill="#eca100" stroke="#eca100"/>
<polygon points="253.4,143.0 263.6,142.1 261.8,136.0 251.6,138.5" fill="#e99500" stroke="#e99500"/>
<polygon points="243.3,145.1 253.4,143.0 251.6,138.5 241.4,147.2" fill="#e68800" stroke="#e68800"/>
<polygon points="233.1,151.8 243.3,145.1 241.4,147.2 231.2,144.6" fill="#e27b00" stroke="#e27b00"/>
<polygon points="222.9,157.6 233.1,151.8 231.2,144.6 221.0,141.7" fill="#e17700" stroke="#e17700"/>
<polygon points="212.7,157.1 222.9,157.6 221.0,141.7 210.8,147.4" fill="#df7200" stroke="#df7200"/>
<polygon points="202.5,161.4 212.7,157.1 210.8,147.4 200.6,151.3" fill="#dc6800" stroke="#dc6800"/>
<polygon points="192.3,169.8 202.5,161.4 200.6,151.3 190.4,165.1" fill="#d24f00" stroke="#d24f00"/>
<polygon points="182.1,180.5 192.3,169.8 190.4,165.1 180.2,176.1" fill="#c23200" stroke="#c23200"/>
<polygon points="469.4,162.1 479.6,160.0 477.8,155.8 467.6,155.0" fill="#b82400" stroke="#b82400"/>
<polygon points="459.2,170.5 469.4,162.1 467.6,155.0 457.4,178.5" fill="#ab1752" stroke="#ab1752"/>
<polygon points="449.0,192.2 459.2,170.5 457.4,178.5 447.2,182.2" fill="#9008e8" stroke="#9008e8"/>
<polygon points="438.8,183.8 449.0,192.2 447.2,182.2 437.0,180.9" fill="#8906f7" stroke="#8906f7"/>
<polygon points="428.6,184.3 438.8,183.8 437.0,180.9 426.8,181.9" fill="#9008e8" stroke="#9008e8"/>
<polygon points="418.5,192.0 428.6,184.3 426.8,181.9 416.6,182.8" fill="#8c07f1" stroke="#8c07f1"/>
<polygon points="408.3,194.5 418.5,192.0 416.6,182.8 406.4,187.4" fill="#8605fc" stroke="#8605fc"/>
<polygon points="398.1,189.3 408.3,194.5 406.4,187.4 396.2,190.5" fill="#8505fd" stroke="#8505fd"/>
<polygon points="387.9,189.0 398.1,189.3 396.2,190.5 386.0,183.6" fill="#8c07f1" stroke="#8c07f1"/>
<polygon points="377.7,185.1 387.9,189.0 386.0,183.6 375.8,191.0" fill="#9108e6" stroke="#9108e6"/>
<polygon points="367.5,180.0 377.7,185.1 375.8,191.0 365.6,181.3" fill="#990cc6" stroke="#990cc6"/>
<polygon points="357.3,176.3 367.5,180.0 365.6,181.3 355.4,184.2" fill="#a2118f" stroke="#a2118f"/>
<polygon points="347.1,173.8 357.3,176.3 355.4,184.2 345.2,176.9" fill="#a9165e" stroke="#a9165e"/>
<polygon points="336.9,153.9 347.1,173.8 345.2,176.9 335.0,156.2" fill="#c13000" stroke="#c13000"/>
<polygon points="326.7,143.2 336.9,153.9 335.0,156.2 324.8,145.6" fill="#da6400" stroke="#da6400"/>
<polygon points="316.5,137.8 326.7,143.2 324.8,145.6 314.6,143.2" fill="#e68800" stroke="#e68800"/>
<polygon points="306.3,139.6 316.5,137.8 314.6,143.2 304.4,142.2" fill="#e99600" stroke="#e99600"/>
<polygon points="296.1,139.0 306.3,139.6 304.4,142.2 294.2,140.6" fill="#eb9c00" stroke="#eb9c00"/>
<polygon points="285.9,138.5 296.1,139.0 294.2,140.6 284.0,128.6" fill="#f1b600" stroke="#f1b600"/>
<polygon points="275.7,144.1 285.9,138.5 284.0,128.6 273.8,135.5" fill="#f2bc00" stroke="#f2bc00"/>
<polygon points="265.5,144.8 275.7,144.1 273.8,135.5 263.6,142.1" fill="#eda500" stroke="#eda500"/>
<polygon points="255.3,152.7 265.5,144.8 263.6,142.1 253.4,143.0" fill="#e99400" stroke="#e99400"/>
<polygon points="245.1,150.5 255.3,152.7 253.4,143.0 243.3,145.1" fill="#e78e00" stroke="#e78e00"/>
<polygon points="234.9,155.2 245.1,150.5 243.3,145.1 233.1,151.8" fill="#e58500" stroke="#e58500"/>
<polygon points="224.7,152.9 234.9,155.2 233.1,151.8 222.9,157.6" fill="#e17800" stroke="#e17800"/>
<polygon points="214.5,165.0 224.7,152.9 222.9,157.6 212.7,157.1" fill="#dd6c00" stroke="#dd6c00"/>
<polygon points="204.3,162.4 214.5,165.0 212.7,157.1 202.5,161.4" fill="#d96200" stroke="#d96200"/>
<polygon points="194.1,175.1 204.3,162.4 202.5,161.4 192.3,169.8" fill="#d25000" stroke="#d25000"/>
<polygon points="184.0,185.7 194.1,175.1 192.3,169.8 182.1,180.5" fill="#c33400" stroke="#c33400"/>
<polygon points="471.3,168.1 481.5,165.7 479.6,160.0 469.4,162.1" fill="#b82300" stroke="#b82300"/>
<polygon points="461.1,167.9 471.3,168.1 469.4,162.1 459.2,170.5" fill="#b41f05" stroke="#b41f05"/>
<polygon points="450.9,198.6 461.1,167.9 459.2,170.5 449.0,192.2" fill="#990cc6" stroke="#990cc6"/>
<polygon points="440.7,194.8 450.9,198.6 449.0,192.2 438.8,183.8" fill="#8505fd" stroke="#8505fd"/>
<polygon points="430.5,193.8 440.7,194.8 438.8,183.8 428.6,184.3" fill="#8e08ed" stroke="#8e08ed"/>
<polygon points="420.3,194.8 430.5,193.8 428.6,184.3 418.5,192.0" fill="#8c07f3" stroke="#8c07f3"/>
<polygon points="410.1,190.7 420.3,194.8 418.5,192.0 408.3,194.5" fill="#8a06f6" stroke="#8a06f6"/>
<polygon points="399.9,187.1 410.1,190.7 408.3,194.5 398.1,189.3" fill="#9209e3" stroke="#9209e3"/>
<polygon points="389.7,185.6 399.9,187.1 398.1,189.3 387.9,189.0" fill="#990cc4" stroke="#990cc4"/>
<polygon points="379.5,183.1 389.7,185.6 387.9,189.0 377.7,185.1" fill="#9f0fa2" stroke="#9f0fa2"/>
<polygon points="369.3,179.2 379.5,183.1 377.7,185.1 367.5,180.0" fill="#a91562" stroke="#a91562"/>
<polygon points="359.2,173.8 369.3,179.2 367.5,180.0 357.3,176.3" fill="#b21e10" stroke="#b21e10"/>
<polygon points="349.0,174.8 359.2,173.8 357.3,176.3 347.1,173.8" fill="#b92500" stroke="#b92500"/>
<polygon points="338.8,151.4 349.0,174.8 347.1,173.8 336.9,153.9" fill="#cc4400" stroke="#cc4400"/>
<polygon points="328.6,145.1 338.8,151.4 336.9,153.9 326.7,143.2" fill="#e48200" stroke="#e48200"/>
<polygon points="318.4,139.3 328.6,145.1 326.7,143.2 316.5,137.8" fill="#efab00" stroke="#efab00"/>
<polygon points="308.2,136.5 318.4,139.3 316.5,137.8 306.3,139.6" fill="#f4c300" stroke="#f4c300"/>
<polygon points="298.0,135.8 308.2,136.5 306.3,139.6 296.1,139.0" fill="#f6cd00" stroke="#f6cd00"/>
<polygon points="287.8,141.8 298.0,135.8 296.1,139.0 285.9,138.5" fill="#f6cc00" stroke="#f6cc00"/>
<polygon points="277.6,151.7 287.8,141.8 285.9,138.5 275.7,144.1" fill="#f0b200" stroke="#f0b200"/>
<polygon points="267.4,151.7 277.6,151.7 275.7,144.1 265.5,144.8" fill="#eca000" stroke="#eca000"/>
<polygon points="257.2,158.1 267.4,151.7 265.5,144.8 255.3,152.7" fill="#e89100" stroke="#e89100"/>
<polygon points="247.0,161.1 257.2,158.1 255.3,152.7 245.1,150.5" fill="#e48300" stroke="#e48300"/>
<polygon points="236.8,167.6 247.0,161.1 245.1,150.5 234.9,155.2" fill="#e27a00" stroke="#e27a00"/>
<polygon points="226.6,167.8 236.8,167.6 234.9,155.2 224.7,152.9" fill="#e07400" stroke="#e07400"/>
<polygon points="216.4,169.5 226.6,167.8 224.7,152.9 214.5,165.0" fill="#dd6c00" stroke="#dd6c00"/>
<polygon points="206.2,174.5 216.4,169.5 214.5,165.0 204.3,162.4" fill="#d85f00" stroke="#d85f00"/>
<polygon points="196.0,181.5 206.2,174.5 204.3,162.4 194.1,175.1" fill="#d24e00" stroke="#d24e00"/>
<polygon points="185.8,192.7 196.0,181.5 194.1,175.1 184.0,185.7" fill="#c33300" stroke="#c33300"/>
<polygon points="473.2,173.2 483.4,172.7 481.5,165.7 471.3,168.1" fill="#b72300" stroke="#b72300"/>
<polygon points="463.0,174.3 473.2,173.2 471.3,168.1 461.1,167.9" fill="#b72300" stroke="#b72300"/>
<polygon points="452.8,187.0 463.0,174.3 461.1,167.9 450.9,198.6" fill="#a5127f" stroke="#a5127f"/>
<polygon points="442.6,193.7 452.8,187.0 450.9,198.6 440.7,194.8" fill="#8f08eb" stroke="#8f08eb"/>
<polygon points="432.4,194.9 442.6,193.7 440.7,194.8 430.5,193.8" fill="#8f08ea" stroke="#8f08ea"/>
<polygon points="422.2,193.2 432.4,194.9 430.5,193.8 420.3,194.8" fill="#9209e3" stroke="#9209e3"/>
<polygon points="412.0,189.2 422.2,193.2 420.3,194.8 410.1,190.7" fill="#980cc8" stroke="#980cc8"/>
<polygon points="401.8,183.8 412.0,189.2 410.1,190.7 399.9,187.1" fill="#a3118d" stroke="#a3118d"/>
<polygon points="391.6,182.6 401.8,183.8 399.9,187.1 389.7,185.6" fill="#aa1657" stroke="#aa1657"/>
<polygon points="381.4,179.1 391.6,182.6 389.7,185.6 379.5,183.1" fill="#b01b28" stroke="#b01b28"/>
<polygon points="371.2,177.0 381.4,179.1 379.5,183.1 369.3,179.2" fill="#b72200" stroke="#b72200"/>
<polygon points="361.0,180.3 371.2,177.0 369.3,179.2 359.2,173.8" fill="#bc2900" stroke="#bc2900"/>
<polygon points="350.8,169.9 361.0,180.3 359.2,173.8 349.0,174.8" fill="#c23200" stroke="#c23200"/>
<polygon points="340.6,148.8 350.8,169.9 349.0,174.8 338.8,151.4" fill="#d85f00" stroke="#d85f00"/>
<polygon points="330.4,140.7 340.6,148.8 338.8,151.4 328.6,145.1" fill="#eea900" stroke="#eea900"/>
<polygon points="320.2,140.9 330.4,140.7 328.6,145.1 318.4,139.3" fill="#f6cc00" stroke="#f6cc00"/>
<polygon points="310.0,140.1 320.2,140.9 318.4,139.3 308.2,136.5" fill="#fae200" stroke="#fae200"/>
<polygon points="299.9,144.8 310.0,140.1 308.2,136.5 298.0,135.8" fill="#fbe800" stroke="#fbe800"/>
<polygon points="289.7,150.9 299.9,144.8 298.0,135.8 287.8,141.8" fill="#f7d300" stroke="#f7d300"/>
<polygon points="279.5,156.6 289.7,150.9 287.8,141.8 277.6,151.7" fill="#efae00" stroke="#efae00"/>
<polygon points="269.3,160.3 279.5,156.6 277.6,151.7 267.4,151.7" fill="#ea9900" stroke="#ea9900"/>
<polygon points="259.1,165.0 269.3,160.3 267.4,151.7 257.2,158.1" fill="#e68b00" stroke="#e68b00"/>
<polygon points="248.9,168.7 259.1,165.0 257.2,158.1 247.0,161.1" fill="#e27a00" stroke="#e27a00"/>
<polygon points="238.7,174.5 248.9,168.7 247.0,161.1 236.8,167.6" fill="#dc6a00" stroke="#dc6a00"/>
<polygon points="228.5,175.0 238.7,174.5 236.8,167.6 226.6,167.8" fill="#d96100" stroke="#d96100"/>
<polygon points="218.3,174.0 228.5,175.0 226.6,167.8 216.4,169.5" fill="#da6300" stroke="#da6300"/>
<polygon points="208.1,181.4 218.3,174.0 216.4,169.5 206.2,174.5" fill="#d65a00" stroke="#d65a00"/>
<polygon points="197.9,187.2 208.1,181.4 206.2,174.5 196.0,181.5" fill="#ce4700" stroke="#ce4700"/>
<polygon points="187.7,198.2 197.9,187.2 196.0,181.5 185.8,192.7" fill="#c23100" stroke="#c23100"/>
<polygon points="475.1,178.3 485.3,177.0 483.4,172.7 473.2,173.2" fill="#b72300" stroke="#b72300"/>
<polygon points="464.9,179.5 475.1,178.3 473.2,173.2 463.0,174.3" fill="#b72300" stroke="#b72300"/>
<polygon points="454.7,180.5 464.9,179.5 463.0,174.3 452.8,187.0" fill="#b21e14" stroke="#b21e14"/>
<polygon points="444.5,192.9 454.7,180.5 452.8,187.0 442.6,193.7" fill="#a5127f" stroke="#a5127f"/>
<polygon points="434.3,192.3 444.5,192.9 442.6,193.7 432.4,194.9" fill="#9d0eb1" stroke="#9d0eb1"/>
<polygon points="424.1,192.6 434.3,192.3 432.4,194.9 422.2,193.2" fill="#9f0fa3" stroke="#9f0fa3"/>
<polygon points="413.9,190.3 424.1,192.6 422.2,193.2 412.0,189.2" fill="#a5137f" stroke="#a5137f"/>
<polygon points="403.7,184.3 413.9,190.3 412.0,189.2 401.8,183.8" fill="#af1a31" stroke="#af1a31"/>
<polygon points="393.5,179.9 403.7,184.3 401.8,183.8 391.6,182.6" fill="#b82400" stroke="#b82400"/>
<polygon points="383.3,178.3 393.5,179.9 391.6,182.6 381.4,179.1" fill="#be2c00" stroke="#be2c00"/>
<polygon points="373.1,174.3 383.3,178.3 381.4,179.1 371.2,177.0" fill="#c43500" stroke="#c43500"/>
<polygon points="362.9,177.9 373.1,174.3 371.2,177.0 361.0,180.3" fill="#c53700" stroke="#c53700"/>
<polygon points="352.7,165.2 362.9,177.9 361.0,180.3 350.8,169.9" fill="#cd4500" stroke="#cd4500"/>
<polygon points="342.5,144.5 352.7,165.2 350.8,169.9 340.6,148.8" fill="#e68900" stroke="#e68900"/>
<polygon points="332.3,142.2 342.5,144.5 340.6,148.8 330.4,140.7" fill="#f8da00" stroke="#f8da00"/>
<polygon points="322.1,145.3 332.3,142.2 330.4,140.7 320.2,140.9" fill="#fced00" stroke="#fced00"/>
<polygon points="311.9,148.6 322.1,145.3 320.2,140.9 310.0,140.1" fill="#fbea00" stroke="#fbea00"/>
<polygon points="301.7,149.6 311.9,148.6 310.0,140.1 299.9,144.8" fill="#fae200" stroke="#fae200"/>
<polygon points="291.5,151.6 301.7,149.6 299.9,144.8 289.7,150.9" fill="#f7d100" stroke="#f7d100"/>
<polygon points="281.3,162.3 291.5,151.6 289.7,150.9 279.5,156.6" fill="#f0b100" stroke="#f0b100"/>
<polygon points="271.1,170.8 281.3,162.3 279.5,156.6 269.3,160.3" fill="#e89000" stroke="#e89000"/>
<polygon points="260.9,177.1 271.1,170.8 269.3,160.3 259.1,165.0" fill="#e17800" stroke="#e17800"/>
<polygon points="250.8,174.6 260.9,177.1 259.1,165.0 248.9,168.7" fill="#de6f00" stroke="#de6f00"/>
<polygon points="240.6,178.3 250.8,174.6 248.9,168.7 238.7,174.5" fill="#dc6800" stroke="#dc6800"/>
<polygon points="230.4,183.9 240.6,178.3 238.7,174.5 228.5,175.0" fill="#d75c00" stroke="#d75c00"/>
<polygon points="220.2,184.0 230.4,183.9 228.5,175.0 218.3,174.0" fill="#d75b00" stroke="#d75b00"/>
<polygon points="210.0,190.2 220.2,184.0 218.3,174.0 208.1,181.4" fill="#d35300" stroke="#d35300"/>
<polygon points="199.8,191.5 210.0,190.2 208.1,181.4 197.9,187.2" fill="#cd4500" stroke="#cd4500"/>
<polygon points="189.6,204.6 199.8,191.5 197.9,187.2 187.7,198.2" fill="#c23200" stroke="#c23200"/>
<polygon points="476.9,184.6 487.1,183.6 485.3,177.0 475.1,178.3" fill="#b82300" stroke="#b82300"/>
<polygon points="466.7,184.8 476.9,184.6 475.1,178.3 464.9,179.5" fill="#b82400" stroke="#b82400"/>
<polygon points="456.5,186.2 466.7,184.8 464.9,179.5 454.7,180.5" fill="#b82400" stroke="#b82400"/>
<polygon points="446.3,192.1 456.5,186.2 454.7,180.5 444.5,192.9" fill="#b01c24" stroke="#b01c24"/>
<polygon points="436.1,192.9 446.3,192.1 444.5,192.9 434.3,192.3" fill="#a9165b" stroke="#a9165b"/>
<polygon points="426.0,187.6 436.1,192.9 434.3,192.3 424.1,192.6" fill="#ad193b" stroke="#ad193b"/>
<polygon points="415.8,184.3 426.0,187.6 424.1,192.6 413.9,190.3" fill="#b41f04" stroke="#b41f04"/>
<polygon points="405.6,183.3 415.8,184.3 413.9,190.3 403.7,184.3" fill="#bb2700" stroke="#bb2700"/>
<polygon points="395.4,175.4 405.6,183.3 403.7,184.3 393.5,179.9" fill="#c43500" stroke="#c43500"/>
<polygon points="385.2,179.7 395.4,175.4 393.5,179.9 383.3,178.3" fill="#ca3e00" stroke="#ca3e00"/>
<polygon points="375.0,171.0 385.2,179.7 383.3,178.3 373.1,174.3" fill="#cf4900" stroke="#cf4900"/>
<polygon points="364.8,172.6 375.0,171.0 373.1,174.3 362.9,177.9" fill="#d35300" stroke="#d35300"/>
<polygon points="354.6,169.0 364.8,172.6 362.9,177.9 352.7,165.2" fill="#d96000" stroke="#d96000"/>
<polygon points="344.4,149.5 354.6,169.0 352.7,165.2 342.5,144.5" fill="#eea700" stroke="#eea700"/>
<polygon points="334.2,149.0 344.4,149.5 342.5,144.5 332.3,142.2" fill="#fdf200" stroke="#fdf200"/>
<polygon points="324.0,148.7 334.2,149.0 332.3,142.2 322.1,145.3" fill="#fef900" stroke="#fef900"/>
<polygon points="313.8,154.9 324.0,148.7 322.1,145.3 311.9,148.6" fill="#fbe900" stroke="#fbe900"/>
<polygon points="303.6,156.4 313.8,154.9 311.9,148.6 301.7,149.6" fill="#f9db00" stroke="#f9db00"/>
<polygon points="293.4,170.2 303.6,156.4 301.7,149.6 291.5,151.6" fill="#f4c400" stroke="#f4c400"/>
<polygon points="283.2,160.0 293.4,170.2 291.5,151.6 281.3,162.3" fill="#f0b100" stroke="#f0b100"/>
<polygon points="273.0,179.0 283.2,160.0 281.3,162.3 271.1,170.8" fill="#e89000" stroke="#e89000"/>
<polygon points="262.8,178.7 273.0,179.0 271.1,170.8 260.9,177.1" fill="#dd6e00" stroke="#dd6e00"/>
<polygon points="252.6,188.6 262.8,178.7 260.9,177.1 250.8,174.6" fill="#da6400" stroke="#da6400"/>
<polygon points="242.4,190.8 252.6,188.6 250.8,174.6 240.6,178.3" fill="#d75b00" stroke="#d75b00"/>
<polygon points="232.2,191.2 242.4,190.8 240.6,178.3 230.4,183.9" fill="#d45300" stroke="#d45300"/>
<polygon points="222.0,197.1 232.2,191.2 230.4,183.9 220.2,184.0" fill="#d14c00" stroke="#d14c00"/>
<polygon points="211.8,193.4 222.0,197.1 220.2,184.0 210.0,190.2" fill="#cf4800" stroke="#cf4800"/>
<polygon points="201.6,198.6 211.8,193.4 210.0,190.2 199.8,191.5" fill="#cd4400" stroke="#cd4400"/>
<polygon points="191.5,210.1 201.6,198.6 199.8,191.5 189.6,204.6" fill="#c23100" stroke="#c23100"/>
<polygon points="478.8,191.1 489.0,189.9 487.1,183.6 476.9,184.6" fill="#b62200" stroke="#b62200"/>
<polygon points="468.6,190.8 478.8,191.1 476.9,184.6 466.7,184.8" fill="#b72300" stroke="#b72300"/>
<polygon points="458.4,191.8 468.6,190.8 466.7,184.8 456.5,186.2" fill="#b82300" stroke="#b82300"/>
<polygon points="448.2,185.9 458.4,191.8 456.5,186.2 446.3,192.1" fill="#b82400" stroke="#b82400"/>
<polygon points="438.0,188.8 448.2,185.9 446.3,192.1 436.1,192.9" fill="#b82400" stroke="#b82400"/>
<polygon points="427.8,181.1 438.0,188.8 436.1,192.9 426.0,187.6" fill="#be2b00" stroke="#be2b00"/>
<polygon points="417.6,179.7 427.8,181.1 426.0,187.6 415.8,184.3" fill="#c63900" stroke="#c63900"/>
<polygon points="407.4,182.4 417.6,179.7 415.8,184.3 405.6,183.3" fill="#c93d00" stroke="#c93d00"/>
<polygon points="397.2,170.6 407.4,182.4 405.6,183.3 395.4,175.4" fill="#d14e00" stroke="#d14e00"/>
<polygon points="387.0,177.0 397.2,170.6 395.4,175.4 385.2,179.7" fill="#d65a00" stroke="#d65a00"/>
<polygon points="376.8,175.3 387.0,177.0 385.2,179.7 375.0,171.0" fill="#d85d00" stroke="#d85d00"/>
<polygon points="366.7,179.2 376.8,175.3 375.0,171.0 364.8,172.6" fill="#db6600" stroke="#db6600"/>
<polygon points="356.5,151.5 366.7,179.2 364.8,172.6 354.6,169.0" fill="#e58600" stroke="#e58600"/>
<polygon points="346.3,153.4 356.5,151.5 354.6,169.0 344.4,149.5" fill="#f7d000" stroke="#f7d000"/>
<polygon points="336.1,157.8 346.3,153.4 344.4,149.5 334.2,149.0" fill="#fcee00" stroke="#fcee00"/>
<polygon points="325.9,154.4 336.1,157.8 334.2,149.0 324.0,148.7" fill="#fdf500" stroke="#fdf500"/>
<polygon points="315.7,157.4 325.9,154.4 324.0,148.7 313.8,154.9" fill="#fdf200" stroke="#fdf200"/>
<polygon points="305.5,163.3 315.7,157.4 313.8,154.9 303.6,156.4" fill="#f9db00" stroke="#f9db00"/>
<polygon points="295.3,181.1 305.5,163.3 303.6,156.4 293.4,170.2" fill="#eda500" stroke="#eda500"/>
<polygon points="285.1,184.7 295.3,181.1 293.4,170.2 283.2,160.0" fill="#e68a00" stroke="#e68a00"/>
<polygon points="274.9,190.7 285.1,184.7 283.2,160.0 273.0,179.0" fill="#e17800" stroke="#e17800"/>
<polygon points="264.7,190.2 274.9,190.7 273.0,179.0 262.8,178.7" fill="#da6300" stroke="#da6300"/>
<polygon points="254.5,193.9 264.7,190.2 262.8,178.7 252.6,188.6" fill="#d65a00" stroke="#d65a00"/>
<polygon points="244.3,192.9 254.5,193.9 252.6,188.6 242.4,190.8" fill="#d25000" stroke="#d25000"/>
<polygon points="234.1,197.8 244.3,192.9 242.4,190.8 232.2,191.2" fill="#d14e00" stroke="#d14e00"/>
<polygon points="223.9,203.1 234.1,197.8 232.2,191.2 222.0,197.1" fill="#cd4400" stroke="#cd4400"/>
<polygon points="213.7,206.3 223.9,203.1 222.0,197.1 211.8,193.4" fill="#ca3f00" stroke="#ca3f00"/>
<polygon points="203.5,207.6 213.7,206.3 211.8,193.4 201.6,198.6" fill="#c93d00" stroke="#c93d00"/>
<polygon points="193.3,214.4 203.5,207.6 201.6,198.6 191.5,210.1" fill="#c02f00" stroke="#c02f00"/>
<polygon points="480.7,195.2 490.9,195.7 489.0,189.9 478.8,191.1" fill="#b62200" stroke="#b62200"/>
<polygon points="470.5,196.4 480.7,195.2 478.8,191.1 468.6,190.8" fill="#b72300" stroke="#b72300"/>
<polygon points="460.3,196.4 470.5,196.4 468.6,190.8 458.4,191.8" fill="#b82400" stroke="#b82400"/>
<polygon points="450.1,193.2 460.3,196.4 458.4,191.8 448.2,185.9" fill="#bd2a00" stroke="#bd2a00"/>
<polygon points="439.9,182.3 450.1,193.2 448.2,185.9 438.0,188.8" fill="#c53700" stroke="#c53700"/>
<polygon points="429.7,177.0 439.9,182.3 438.0,188.8 427.8,181.1" fill="#cf4900" stroke="#cf4900"/>
<polygon points="419.5,178.8 429.7,177.0 427.8,181.1 417.6,179.7" fill="#d55700" stroke="#d55700"/>
<polygon points="409.3,180.4 419.5,178.8 417.6,179.7 407.4,182.4" fill="#d55600" stroke="#d55600"/>
<polygon points="399.1,178.9 409.3,180.4 407.4,182.4 397.2,170.6" fill="#da6200" stroke="#da6200"/>
<polygon points="388.9,175.5 399.1,178.9 397.2,170.6 387.0,177.0" fill="#df7100" stroke="#df7100"/>
<polygon points="378.7,181.6 388.9,175.5 387.0,177.0 376.8,175.3" fill="#dd6d00" stroke="#dd6d00"/>
<polygon points="368.5,157.4 378.7,181.6 376.8,175.3 366.7,179.2" fill="#e48300" stroke="#e48300"/>
<polygon points="358.3,157.1 368.5,157.4 366.7,179.2 356.5,151.5" fill="#f6cb00" stroke="#f6cb00"/>
<polygon points="348.1,158.1 358.3,157.1 356.5,151.5 346.3,153.4" fill="#fffd00" stroke="#fffd00"/>
<polygon points="337.9,185.7 348.1,158.1 346.3,153.4 336.1,157.8" fill="#f5c800" stroke="#f5c800"/>
<polygon points="327.7,187.2 337.9,185.7 336.1,157.8 325.9,154.4" fill="#eca100" stroke="#eca100"/>
<polygon points="317.5,187.4 327.7,187.2 325.9,154.4 315.7,157.4" fill="#eda500" stroke="#eda500"/>
<polygon points="307.4,195.2 317.5,187.4 315.7,157.4 305.5,163.3" fill="#e99300" stroke="#e99300"/>
<polygon points="297.2,193.0 307.4,195.2 305.5,163.3 295.3,181.1" fill="#e07500" stroke="#e07500"/>
<polygon points="287.0,191.9 297.2,193.0 295.3,181.1 285.1,184.7" fill="#db6600" stroke="#db6600"/>
<polygon points="276.8,198.6 287.0,191.9 285.1,184.7 274.9,190.7" fill="#d75b00" stroke="#d75b00"/>
<polygon points="266.6,202.5 276.8,198.6 274.9,190.7 264.7,190.2" fill="#d25000" stroke="#d25000"/>
<polygon points="256.4,201.6 266.6,202.5 264.7,190.2 254.5,193.9" fill="#d14e00" stroke="#d14e00"/>
<polygon points="246.2,207.7 256.4,201.6 254.5,193.9 244.3,192.9" fill="#d04a00" stroke="#d04a00"/>
<polygon points="236.0,207.3 246.2,207.7 244.3,192.9 234.1,197.8" fill="#cd4600" stroke="#cd4600"/>
<polygon points="225.8,210.3 236.0,207.3 234.1,197.8 223.9,203.1" fill="#ca3f00" stroke="#ca3f00"/>
<polygon points="215.6,212.8 225.8,210.3 223.9,203.1 213.7,206.3" fill="#c63800" stroke="#c63800"/>
<polygon points="205.4,216.5 215.6,212.8 213.7,206.3 203.5,207.6" fill="#c33300" stroke="#c33300"/>
<polygon points="195.2,220.4 205.4,216.5 203.5,207.6 193.3,214.4" fill="#be2c00" stroke="#be2c00"/>
<polygon points="482.6,201.1 492.8,200.5 490.9,195.7 480.7,195.2" fill="#b72300" stroke="#b72300"/>
<polygon points="472.4,203.1 482.6,201.1 480.7,195.2 470.5,196.4" fill="#b72300" stroke="#b72300"/>
<polygon points="462.2,194.2 472.4,203.1 470.5,196.4 460.3,196.4" fill="#bb2800" stroke="#bb2800"/>
<polygon points="452.0,182.3 462.2,194.2 460.3,196.4 450.1,193.2" fill="#c73900" stroke="#c73900"/>
<polygon points="441.8,179.1 452.0,182.3 450.1,193.2 439.9,182.3" fill="#d35200" stroke="#d35200"/>
<polygon points="431.6,180.7 441.8,179.1 439.9,182.3 429.7,177.0" fill="#db6700" stroke="#db6700"/>
<polygon points="421.4,183.5 431.6,180.7 429.7,177.0 419.5,178.8" fill="#dc6a00" stroke="#dc6a00"/>
<polygon points="411.2,186.2 421.4,183.5 419.5,178.8 409.3,180.4" fill="#da6500" stroke="#da6500"/>
<polygon points="401.0,183.5 411.2,186.2 409.3,180.4 399.1,178.9" fill="#dc6800" stroke="#dc6800"/>
<polygon points="390.8,186.3 401.0,183.5 399.1,178.9 388.9,175.5" fill="#df7100" stroke="#df7100"/>
<polygon points="380.6,160.9 390.8,186.3 388.9,175.5 378.7,181.6" fill="#e78d00" stroke="#e78d00"/>
<polygon points="370.4,161.8 380.6,160.9 378.7,181.6 368.5,157.4" fill="#f6cf00" stroke="#f6cf00"/>
<polygon points="360.2,163.0 370.4,161.8 368.5,157.4 358.3,157.1" fill="#fffc00" stroke="#fffc00"/>
<polygon points="350.0,163.9 360.2,163.0 358.3,157.1 348.1,158.1" fill="#fffe00" stroke="#fffe00"/>
<polygon points="339.8,200.9 350.0,163.9 348.1,158.1 337.9,185.7" fill="#eb9b00" stroke="#eb9b00"/>
<polygon points="329.6,198.0 339.8,200.9 337.9,185.7 327.7,187.2" fill="#d65900" stroke="#d65900"/>
<polygon points="319.4,200.7 329.6,198.0 327.7,187.2 317.5,187.4" fill="#d75b00" stroke="#d75b00"/>
<polygon points="309.2,204.6 319.4,200.7 317.5,187.4 307.4,195.2" fill="#d35100" stroke="#d35100"/>
<polygon points="299.0,204.6 309.2,204.6 307.4,195.2 297.2,193.0" fill="#d04c00" stroke="#d04c00"/>
<polygon points="288.8,206.7 299.0,204.6 297.2,193.0 287.0,191.9" fill="#d25000" stroke="#d25000"/>
<polygon points="278.6,208.7 288.8,206.7 287.0,191.9 276.8,198.6" fill="#d04b00" stroke="#d04b00"/>
<polygon points="268.4,211.4 278.6,208.7 276.8,198.6 266.6,202.5" fill="#cc4200" stroke="#cc4200"/>
<polygon points="258.3,215.8 268.4,211.4 266.6,202.5 256.4,201.6" fill="#c93d00" stroke="#c93d00"/>
<polygon points="248.1,216.9 258.3,215.8 256.4,201.6 246.2,207.7" fill="#c63900" stroke="#c63900"/>
<polygon points="237.9,221.8 248.1,216.9 246.2,207.7 236.0,207.3" fill="#c33300" stroke="#c33300"/>
<polygon points="227.7,221.6 237.9,221.8 236.0,207.3 225.8,210.3" fill="#c23100" stroke="#c23100"/>
<polygon points="217.5,219.9 227.7,221.6 225.8,210.3 215.6,212.8" fill="#c23100" stroke="#c23100"/>
<polygon points="207.3,227.2 217.5,219.9 215.6,212.8 205.4,216.5" fill="#bf2d00" stroke="#bf2d00"/>
<polygon points="197.1,230.5 207.3,227.2 205.4,216.5 195.2,220.4" fill="#b92500" stroke="#b92500"/>
<polygon points="484.4,207.6 494.6,205.9 492.8,200.5 482.6,201.1" fill="#b72300" stroke="#b72300"/>
<polygon points="474.2,200.9 484.4,207.6 482.6,201.1 472.4,203.1" fill="#ba2600" stroke="#ba2600"/>
<polygon points="464.0,190.0 474.2,200.9 472.4,203.1 462.2,194.2" fill="#c53700" stroke="#c53700"/>
<polygon points="453.8,186.8 464.0,190.0 462.2,194.2 452.0,182.3" fill="#d45400" stroke="#d45400"/>
<polygon points="443.6,185.4 453.8,186.8 452.0,182.3 441.8,179.1" fill="#dd6b00" stroke="#dd6b00"/>
<polygon points="433.5,188.6 443.6,185.4 441.8,179.1 431.6,180.7" fill="#de6f00" stroke="#de6f00"/>
<polygon points="423.3,182.6 433.5,188.6 431.6,180.7 421.4,183.5" fill="#df7100" stroke="#df7100"/>
<polygon points="413.1,192.1 423.3,182.6 421.4,183.5 411.2,186.2" fill="#dd6c00" stroke="#dd6c00"/>
<polygon points="402.9,188.8 413.1,192.1 411.2,186.2 401.0,183.5" fill="#dc6900" stroke="#dc6900"/>
<polygon points="392.7,187.5 402.9,188.8 401.0,183.5 390.8,186.3" fill="#df7200" stroke="#df7200"/>
<polygon points="382.5,172.7 392.7,187.5 390.8,186.3 380.6,160.9" fill="#eea600" stroke="#eea600"/>
<polygon points="372.3,167.4 382.5,172.7 380.6,160.9 370.4,161.8" fill="#fdf400" stroke="#fdf400"/>
<polygon points="362.1,168.4 372.3,167.4 370.4,161.8 360.2,163.0" fill="#ffff00" stroke="#ffff00"/>
<polygon points="351.9,169.3 362.1,168.4 360.2,163.0 350.0,163.9" fill="#fffe00" stroke="#fffe00"/>
<polygon points="341.7,210.9 351.9,169.3 350.0,163.9 339.8,200.9" fill="#e68900" stroke="#e68900"/>
<polygon points="331.5,210.7 341.7,210.9 339.8,200.9 329.6,198.0" fill="#cc4300" stroke="#cc4300"/>
<polygon points="321.3,208.2 331.5,210.7 329.6,198.0 319.4,200.7" fill="#ce4800" stroke="#ce4800"/>
<polygon points="311.1,218.0 321.3,208.2 319.4,200.7 309.2,204.6" fill="#cb4000" stroke="#cb4000"/>
<polygon points="300.9,211.7 311.1,218.0 309.2,204.6 299.0,204.6" fill="#c93d00" stroke="#c93d00"/>
<polygon points="290.7,221.2 300.9,211.7 299.0,204.6 288.8,206.7" fill="#c83c00" stroke="#c83c00"/>
<polygon points="280.5,217.8 290.7,221.2 288.8,206.7 278.6,208.7" fill="#c63800" stroke="#c63800"/>
<polygon points="270.3,224.7 280.5,217.8 278.6,208.7 268.4,211.4" fill="#c43500" stroke="#c43500"/>
<polygon points="260.1,225.6 270.3,224.7 268.4,211.4 258.3,215.8" fill="#c02e00" stroke="#c02e00"/>
<polygon points="249.9,233.9 260.1,225.6 258.3,215.8 248.1,216.9" fill="#bb2800" stroke="#bb2800"/>
<polygon points="239.7,226.4 249.9,233.9 248.1,216.9 237.9,221.8" fill="#ba2600" stroke="#ba2600"/>
<polygon points="229.5,235.2 239.7,226.4 237.9,221.8 227.7,221.6" fill="#b92500" stroke="#b92500"/>
<polygon points="219.3,232.7 229.5,235.2 227.7,221.6 217.5,219.9" fill="#b92500" stroke="#b92500"/>
<polygon points="209.1,238.3 219.3,232.7 217.5,219.9 207.3,227.2" fill="#b72200" stroke="#b72200"/>
<polygon points="199.0,238.1 209.1,238.3 207.3,227.2 197.1,230.5" fill="#b11d1b" stroke="#b11d1b"/>
<polygon points="486.3,212.5 496.5,211.6 494.6,205.9 484.4,207.6" fill="#b72300" stroke="#b72300"/>
<polygon points="476.1,193.2 486.3,212.5 484.4,207.6 474.2,200.9" fill="#c23200" stroke="#c23200"/>
<polygon points="465.9,191.6 476.1,193.2 474.2,200.9 464.0,190.0" fill="#d35100" stroke="#d35100"/>
<polygon points="455.7,190.9 465.9,191.6 464.0,190.0 453.8,186.8" fill="#da6400" stroke="#da6400"/>
<polygon points="445.5,189.5 455.7,190.9 453.8,186.8 443.6,185.4" fill="#de6f00" stroke="#de6f00"/>
<polygon points="435.3,192.8 445.5,189.5 443.6,185.4 433.5,188.6" fill="#de6f00" stroke="#de6f00"/>
<polygon points="425.1,185.1 435.3,192.8 433.5,188.6 423.3,182.6" fill="#e27b00" stroke="#e27b00"/>
<polygon points="414.9,197.6 425.1,185.1 423.3,182.6 413.1,192.1" fill="#e07600" stroke="#e07600"/>
<polygon points="404.7,198.1 414.9,197.6 413.1,192.1 402.9,188.8" fill="#db6600" stroke="#db6600"/>
<polygon points="394.5,177.2 404.7,198.1 402.9,188.8 392.7,187.5" fill="#e58500" stroke="#e58500"/>
<polygon points="384.3,172.1 394.5,177.2 392.7,187.5 382.5,172.7" fill="#f4c500" stroke="#f4c500"/>
<polygon points="374.2,173.3 384.3,172.1 382.5,172.7 372.3,167.4" fill="#fdf300" stroke="#fdf300"/>
<polygon points="364.0,174.9 374.2,173.3 372.3,167.4 362.1,168.4" fill="#fffd00" stroke="#fffd00"/>
<polygon points="353.8,175.3 364.0,174.9 362.1,168.4 351.9,169.3" fill="#fffd00" stroke="#fffd00"/>
<polygon points="343.6,222.1 353.8,175.3 351.9,169.3 341.7,210.9" fill="#e27d00" stroke="#e27d00"/>
<polygon points="333.4,222.9 343.6,222.1 341.7,210.9 331.5,210.7" fill="#c33200" stroke="#c33200"/>
<polygon points="323.2,224.5 333.4,222.9 331.5,210.7 321.3,208.2" fill="#c43500" stroke="#c43500"/>
<polygon points="313.0,227.4 323.2,224.5 321.3,208.2 311.1,218.0" fill="#c13000" stroke="#c13000"/>
<polygon points="302.8,225.9 313.0,227.4 311.1,218.0 300.9,211.7" fill="#c02f00" stroke="#c02f00"/>
<polygon points="292.6,226.2 302.8,225.9 300.9,211.7 290.7,221.2" fill="#c13000" stroke="#c13000"/>
<polygon points="282.4,227.0 292.6,226.2 290.7,221.2 280.5,217.8" fill="#c02e00" stroke="#c02e00"/>
<polygon points="272.2,234.5 282.4,227.0 280.5,217.8 270.3,224.7" fill="#bc2a00" stroke="#bc2a00"/>
<polygon points="262.0,232.2 272.2,234.5 270.3,224.7 260.1,225.6" fill="#b92500" stroke="#b92500"/>
<polygon points="251.8,237.0 262.0,232.2 260.1,225.6 249.9,233.9" fill="#b52100" stroke="#b52100"/>
<polygon points="241.6,236.3 251.8,237.0 249.9,233.9 239.7,226.4" fill="#b52000" stroke="#b52000"/>
<polygon points="231.4,242.2 241.6,236.3 239.7,226.4 229.5,235.2" fill="#b31f08" stroke="#b31f08"/>
<polygon points="221.2,245.3 231.4,242.2 229.5,235.2 219.3,232.7" fill="#ae1a34" stroke="#ae1a34"/>
<polygon points="211.0,243.1 221.2,245.3 219.3,232.7 209.1,238.3" fill="#ae1a35" stroke="#ae1a35"/>
<polygon points="200.8,245.4 211.0,243.1 209.1,238.3 199.0,238.1" fill="#ad193b" stroke="#ad193b"/>
<polygon points="488.2,214.5 498.4,217.0 496.5,211.6 486.3,212.5" fill="#b92500" stroke="#b92500"/>
<polygon points="478.0,195.8 488.2,214.5 486.3,212.5 476.1,193.2" fill="#cb4000" stroke="#cb4000"/>
<polygon points="467.8,197.7 478.0,195.8 476.1,193.2 465.9,191.6" fill="#da6400" stroke="#da6400"/>
<polygon points="457.6,190.8 467.8,197.7 465.9,191.6 455.7,190.9" fill="#de6f00" stroke="#de6f00"/>
<polygon points="447.4,193.0 457.6,190.8 455.7,190.9 445.5,189.5" fill="#e27b00" stroke="#e27b00"/>
<polygon points="437.2,187.6 447.4,193.0 445.5,189.5 435.3,192.8" fill="#e48100" stroke="#e48100"/>
<polygon points="427.0,180.8 437.2,187.6 435.3,192.8 425.1,185.1" fill="#ea9a00" stroke="#ea9a00"/>
<polygon points="416.8,178.6 427.0,180.8 425.1,185.1 414.9,197.6" fill="#eda500" stroke="#eda500"/>
<polygon points="406.6,179.5 416.8,178.6 414.9,197.6 404.7,198.1" fill="#eb9a00" stroke="#eb9a00"/>
<polygon points="396.4,177.4 406.6,179.5 404.7,198.1 394.5,177.2" fill="#f3be00" stroke="#f3be00"/>
<polygon points="386.2,180.9 396.4,177.4 394.5,177.2 384.3,172.1" fill="#fced00" stroke="#fced00"/>
<polygon points="376.0,180.4 386.2,180.9 384.3,172.1 374.2,173.3" fill="#fdf600" stroke="#fdf600"/>
<polygon points="365.8,226.2 376.0,180.4 374.2,173.3 364.0,174.9" fill="#efae00" stroke="#efae00"/>
<polygon points="355.6,235.6 365.8,226.2 364.0,174.9 353.8,175.3" fill="#dd6c00" stroke="#dd6c00"/>
<polygon points="345.4,232.5 355.6,235.6 353.8,175.3 343.6,222.1" fill="#ca4000" stroke="#ca4000"/>
<polygon points="335.2,233.0 345.4,232.5 343.6,222.1 333.4,222.9" fill="#ba2600" stroke="#ba2600"/>
<polygon points="325.0,235.7 335.2,233.0 333.4,222.9 323.2,224.5" fill="#b92500" stroke="#b92500"/>
<polygon points="314.9,235.0 325.0,235.7 323.2,224.5 313.0,227.4" fill="#b82400" stroke="#b82400"/>
<polygon points="304.7,236.2 314.9,235.0 313.0,227.4 302.8,225.9" fill="#b82500" stroke="#b82500"/>
<polygon points="294.5,241.8 304.7,236.2 302.8,225.9 292.6,226.2" fill="#b82400" stroke="#b82400"/>
<polygon points="284.3,240.3 294.5,241.8 292.6,226.2 282.4,227.0" fill="#b72300" stroke="#b72300"/>
<polygon points="274.1,241.3 284.3,240.3 282.4,227.0 272.2,234.5" fill="#b52100" stroke="#b52100"/>
<polygon points="263.9,243.4 274.1,241.3 272.2,234.5 262.0,232.2" fill="#b31f08" stroke="#b31f08"/>
<polygon points="253.7,245.2 263.9,243.4 262.0,232.2 251.8,237.0" fill="#b21e12" stroke="#b21e12"/>
<polygon points="243.5,246.2 253.7,245.2 251.8,237.0 241.6,236.3" fill="#b11c1e" stroke="#b11c1e"/>
<polygon points="233.3,251.4 243.5,246.2 241.6,236.3 231.4,242.2" fill="#ad193c" stroke="#ad193c"/>
<polygon points="223.1,249.8 233.3,251.4 231.4,242.2 221.2,245.3" fill="#a9165c" stroke="#a9165c"/>
<polygon points="212.9,255.1 223.1,249.8 221.2,245.3 211.0,243.1" fill="#a9165f" stroke="#a9165f"/>
<polygon points="202.7,256.5 212.9,255.1 211.0,243.1 200.8,245.4" fill="#a8156a" stroke="#a8156a"/>
<polygon points="490.1,204.5 500.3,222.9 498.4,217.0 488.2,214.5" fill="#c13000" stroke="#c13000"/>
<polygon points="479.9,209.4 490.1,204.5 488.2,214.5 478.0,195.8" fill="#d04b00" stroke="#d04b00"/>
<polygon points="469.7,201.9 479.9,209.4 478.0,195.8 467.8,197.7" fill="#d96000" stroke="#d96000"/>
<polygon points="459.5,204.6 469.7,201.9 467.8,197.7 457.6,190.8" fill="#dd6e00" stroke="#dd6e00"/>
<polygon points="449.3,190.7 459.5,204.6 457.6,190.8 447.4,193.0" fill="#e48400" stroke="#e48400"/>
<polygon points="439.1,184.9 449.3,190.7 447.4,193.0 437.2,187.6" fill="#eda600" stroke="#eda600"/>
<polygon points="428.9,183.0 439.1,184.9 437.2,187.6 427.0,180.8" fill="#f5c900" stroke="#f5c900"/>
<polygon points="418.7,183.3 428.9,183.0 427.0,180.8 416.8,178.6" fill="#fae100" stroke="#fae100"/>
<polygon points="408.5,183.9 418.7,183.3 416.8,178.6 406.6,179.5" fill="#fbe800" stroke="#fbe800"/>
<polygon points="398.3,182.4 408.5,183.9 406.6,179.5 396.4,177.4" fill="#fdf300" stroke="#fdf300"/>
<polygon points="388.1,183.4 398.3,182.4 396.4,177.4 386.2,180.9" fill="#fef800" stroke="#fef800"/>
<polygon points="377.9,184.3 388.1,183.4 386.2,180.9 376.0,180.4" fill="#fdf600" stroke="#fdf600"/>
<polygon points="367.7,236.4 377.9,184.3 376.0,180.4 365.8,226.2" fill="#de6f00" stroke="#de6f00"/>
<polygon points="357.5,244.0 367.7,236.4 365.8,226.2 355.6,235.6" fill="#b21e11" stroke="#b21e11"/>
<polygon points="347.3,244.0 357.5,244.0 355.6,235.6 345.4,232.5" fill="#ae1a38" stroke="#ae1a38"/>
<polygon points="337.1,243.7 347.3,244.0 345.4,232.5 335.2,233.0" fill="#b11c1f" stroke="#b11c1f"/>
<polygon points="326.9,246.8 337.1,243.7 335.2,233.0 325.0,235.7" fill="#b01b27" stroke="#b01b27"/>
<polygon points="316.7,250.8 326.9,246.8 325.0,235.7 314.9,235.0" fill="#ad193b" stroke="#ad193b"/>
<polygon points="306.5,249.1 316.7,250.8 314.9,235.0 304.7,236.2" fill="#ae1a38" stroke="#ae1a38"/>
<polygon points="296.3,249.6 306.5,249.1 304.7,236.2 294.5,241.8" fill="#ad193f" stroke="#ad193f"/>
<polygon points="286.1,251.9 296.3,249.6 294.5,241.8 284.3,240.3" fill="#ac184a" stroke="#ac184a"/>
<polygon points="275.9,254.3 286.1,251.9 284.3,240.3 274.1,241.3" fill="#ab184c" stroke="#ab184c"/>
<polygon points="265.8,256.4 275.9,254.3 274.1,241.3 263.9,243.4" fill="#aa165a" stroke="#aa165a"/>
<polygon points="255.6,259.7 265.8,256.4 263.9,243.4 253.7,245.2" fill="#a7146e" stroke="#a7146e"/>
<polygon points="245.4,260.1 255.6,259.7 253.7,245.2 243.5,246.2" fill="#a61377" stroke="#a61377"/>
<polygon points="235.2,261.6 245.4,260.1 243.5,246.2 233.3,251.4" fill="#a41286" stroke="#a41286"/>
<polygon points="225.0,264.9 235.2,261.6 233.3,251.4 223.1,249.8" fill="#a11094" stroke="#a11094"/>
<polygon points="214.8,261.3 225.0,264.9 223.1,249.8 212.9,255.1" fill="#a21193" stroke="#a21193"/>
<polygon points="204.6,270.0 214.8,261.3 212.9,255.1 202.7,256.5" fill="#9e0eab" stroke="#9e0eab"/>
<polygon points="491.9,204.5 502.1,228.5 500.3,222.9 490.1,204.5" fill="#c93e00" stroke="#c93e00"/>
<polygon points="481.7,206.8 491.9,204.5 490.1,204.5 479.9,209.4" fill="#d85e00" stroke="#d85e00"/>
<polygon points="471.5,206.9 481.7,206.8 479.9,209.4 469.7,201.9" fill="#d96200" stroke="#d96200"/>
<polygon points="461.3,201.8 471.5,206.9 469.7,201.9 459.5,204.6" fill="#de7000" stroke="#de7000"/>
<polygon points="451.1,192.8 461.3,201.8 459.5,204.6 449.3,190.7" fill="#e89200" stroke="#e89200"/>
<polygon points="441.0,195.6 451.1,192.8 449.3,190.7 439.1,184.9" fill="#f2bb00" stroke="#f2bb00"/>
<polygon points="430.8,191.7 441.0,195.6 439.1,184.9 428.9,183.0" fill="#f6cf00" stroke="#f6cf00"/>
<polygon points="420.6,194.0 430.8,191.7 428.9,183.0 418.7,183.3" fill="#f9db00" stroke="#f9db00"/>
<polygon points="410.4,187.1 420.6,194.0 418.7,183.3 408.5,183.9" fill="#fbe800" stroke="#fbe800"/>
<polygon points="400.2,188.2 410.4,187.1 408.5,183.9 398.3,182.4" fill="#fefa00" stroke="#fefa00"/>
<polygon points="390.0,236.7 400.2,188.2 398.3,182.4 388.1,183.4" fill="#f0b000" stroke="#f0b000"/>
<polygon points="379.8,245.6 390.0,236.7 388.1,183.4 377.9,184.3" fill="#dd6b00" stroke="#dd6b00"/>
<polygon points="369.6,247.6 379.8,245.6 377.9,184.3 367.7,236.4" fill="#c63800" stroke="#c63800"/>
<polygon points="359.4,254.1 369.6,247.6 367.7,236.4 357.5,244.0" fill="#ab1753" stroke="#ab1753"/>
<polygon points="349.2,258.0 359.4,254.1 357.5,244.0 347.3,244.0" fill="#a41285" stroke="#a41285"/>
<polygon points="339.0,257.7 349.2,258.0 347.3,244.0 337.1,243.7" fill="#a41284" stroke="#a41284"/>
<polygon points="328.8,259.6 339.0,257.7 337.1,243.7 326.9,246.8" fill="#a41286" stroke="#a41286"/>
<polygon points="318.6,258.8 328.8,259.6 326.9,246.8 316.7,250.8" fill="#a21194" stroke="#a21194"/>
<polygon points="308.4,258.2 318.6,258.8 316.7,250.8 306.5,249.1" fill="#a3118b" stroke="#a3118b"/>
<polygon points="298.2,261.9 308.4,258.2 306.5,249.1 296.3,249.6" fill="#a41285" stroke="#a41285"/>
<polygon points="288.0,257.8 298.2,261.9 296.3,249.6 286.1,251.9" fill="#a51280" stroke="#a51280"/>
<polygon points="277.8,259.3 288.0,257.8 286.1,251.9 275.9,254.3" fill="#a5137a" stroke="#a5137a"/>
<polygon points="267.6,264.5 277.8,259.3 275.9,254.3 265.8,256.4" fill="#a21193" stroke="#a21193"/>
<polygon points="257.4,262.5 267.6,264.5 265.8,256.4 255.6,259.7" fill="#9f0fa2" stroke="#9f0fa2"/>
<polygon points="247.2,268.9 257.4,262.5 255.6,259.7 245.4,260.1" fill="#9d0eae" stroke="#9d0eae"/>
<polygon points="237.0,269.2 247.2,268.9 245.4,260.1 235.2,261.6" fill="#9b0dbc" stroke="#9b0dbc"/>
<polygon points="226.8,271.8 237.0,269.2 235.2,261.6 225.0,264.9" fill="#990cc5" stroke="#990cc5"/>
<polygon points="216.6,273.3 226.8,271.8 225.0,264.9 214.8,261.3" fill="#990cc5" stroke="#990cc5"/>
<polygon points="206.5,272.1 216.6,273.3 214.8,261.3 204.6,270.0" fill="#980bc9" stroke="#980bc9"/>
<polygon points="493.8,219.9 504.0,222.4 502.1,228.5 491.9,204.5" fill="#cc4300" stroke="#cc4300"/>
<polygon points="483.6,211.1 493.8,219.9 491.9,204.5 481.7,206.8" fill="#da6300" stroke="#da6300"/>
<polygon points="473.4,209.2 483.6,211.1 481.7,206.8 471.5,206.9" fill="#de7000" stroke="#de7000"/>
<polygon points="463.2,207.8 473.4,209.2 471.5,206.9 461.3,201.8" fill="#e37d00" stroke="#e37d00"/>
<polygon points="453.0,205.2 463.2,207.8 461.3,201.8 451.1,192.8" fill="#ea9800" stroke="#ea9800"/>
<polygon points="442.8,205.3 453.0,205.2 451.1,192.8 441.0,195.6" fill="#eea900" stroke="#eea900"/>
<polygon points="432.6,201.5 442.8,205.3 441.0,195.6 430.8,191.7" fill="#f1b600" stroke="#f1b600"/>
<polygon points="422.4,207.5 432.6,201.5 430.8,191.7 420.6,194.0" fill="#f2bb00" stroke="#f2bb00"/>
<polygon points="412.2,232.9 422.4,207.5 420.6,194.0 410.4,187.1" fill="#ea9a00" stroke="#ea9a00"/>
<polygon points="402.0,193.7 412.2,232.9 410.4,187.1 400.2,188.2" fill="#f2bb00" stroke="#f2bb00"/>
<polygon points="391.8,243.1 402.0,193.7 400.2,188.2 390.0,236.7" fill="#df7300" stroke="#df7300"/>
<polygon points="381.7,256.3 391.8,243.1 390.0,236.7 379.8,245.6" fill="#b11d19" stroke="#b11d19"/>
<polygon points="371.5,261.2 381.7,256.3 379.8,245.6 369.6,247.6" fill="#a61377" stroke="#a61377"/>
<polygon points="361.3,262.7 371.5,261.2 369.6,247.6 359.4,254.1" fill="#a0109b" stroke="#a0109b"/>
<polygon points="351.1,264.0 361.3,262.7 359.4,254.1 349.2,258.0" fill="#9c0db6" stroke="#9c0db6"/>
<polygon points="340.9,265.4 351.1,264.0 349.2,258.0 339.0,257.7" fill="#9a0dbd" stroke="#9a0dbd"/>
<polygon points="330.7,266.1 340.9,265.4 339.0,257.7 328.8,259.6" fill="#9b0dbd" stroke="#9b0dbd"/>
<polygon points="320.5,267.1 330.7,266.1 328.8,259.6 318.6,258.8" fill="#9b0dba" stroke="#9b0dba"/>
<polygon points="310.3,268.6 320.5,267.1 318.6,258.8 308.4,258.2" fill="#9c0eb3" stroke="#9c0eb3"/>
<polygon points="300.1,266.2 310.3,268.6 308.4,258.2 298.2,261.9" fill="#9d0eaf" stroke="#9d0eaf"/>
<polygon points="289.9,268.4 300.1,266.2 298.2,261.9 288.0,257.8" fill="#9f0fa2" stroke="#9f0fa2"/>
<polygon points="279.7,270.4 289.9,268.4 288.0,257.8 277.8,259.3" fill="#a0109b" stroke="#a0109b"/>
<polygon points="269.5,269.3 279.7,270.4 277.8,259.3 267.6,264.5" fill="#9f0fa7" stroke="#9f0fa7"/>
<polygon points="259.3,275.1 269.5,269.3 267.6,264.5 257.4,262.5" fill="#9c0eb2" stroke="#9c0eb2"/>
<polygon points="249.1,275.7 259.3,275.1 257.4,262.5 247.2,268.9" fill="#990cc5" stroke="#990cc5"/>
<polygon points="238.9,272.6 249.1,275.7 247.2,268.9 237.0,269.2" fill="#990cc6" stroke="#990cc6"/>
<polygon points="228.7,273.1 238.9,272.6 237.0,269.2 226.8,271.8" fill="#9b0dbd" stroke="#9b0dbd"/>
<polygon points="218.5,282.0 228.7,273.1 226.8,271.8 216.6,273.3" fill="#950ad4" stroke="#950ad4"/>
<polygon points="208.3,275.7 218.5,282.0 216.6,273.3 206.5,272.1" fill="#960bd2" stroke="#960bd2"/>
<polygon points="495.7,223.2 505.9,225.9 504.0,222.4 493.8,219.9" fill="#cf4800" stroke="#cf4800"/>
<polygon points="485.5,218.3 495.7,223.2 493.8,219.9 483.6,211.1" fill="#d75c00" stroke="#d75c00"/>
<polygon points="475.3,213.2 485.5,218.3 483.6,211.1 473.4,209.2" fill="#e07500" stroke="#e07500"/>
<polygon points="465.1,213.2 475.3,213.2 473.4,209.2 463.2,207.8" fill="#e48300" stroke="#e48300"/>
<polygon points="454.9,214.0 465.1,213.2 463.2,207.8 453.0,205.2" fill="#e78b00" stroke="#e78b00"/>
<polygon points="444.7,215.2 454.9,214.0 453.0,205.2 442.8,205.3" fill="#e89100" stroke="#e89100"/>
<polygon points="434.5,213.4 444.7,215.2 442.8,205.3 432.6,201.5" fill="#eb9b00" stroke="#eb9b00"/>
<polygon points="424.3,201.5 434.5,213.4 432.6,201.5 422.4,207.5" fill="#f0b100" stroke="#f0b100"/>
<polygon points="414.1,247.3 424.3,201.5 422.4,207.5 412.2,232.9" fill="#db6600" stroke="#db6600"/>
<polygon points="403.9,250.4 414.1,247.3 412.2,232.9 402.0,193.7" fill="#cf4900" stroke="#cf4900"/>
<polygon points="393.7,259.8 403.9,250.4 402.0,193.7 391.8,243.1" fill="#c83b00" stroke="#c83b00"/>
<polygon points="383.5,267.9 393.7,259.8 391.8,243.1 381.7,256.3" fill="#a7146f" stroke="#a7146f"/>
<polygon points="373.3,270.5 383.5,267.9 381.7,256.3 371.5,261.2" fill="#9b0dbc" stroke="#9b0dbc"/>
<polygon points="363.1,279.2 373.3,270.5 371.5,261.2 361.3,262.7" fill="#9309dc" stroke="#9309dc"/>
<polygon points="352.9,276.4 363.1,279.2 361.3,262.7 351.1,264.0" fill="#9109e5" stroke="#9109e5"/>
<polygon points="342.7,279.2 352.9,276.4 351.1,264.0 340.9,265.4" fill="#9109e3" stroke="#9109e3"/>
<polygon points="332.5,278.5 342.7,279.2 340.9,265.4 330.7,266.1" fill="#9109e4" stroke="#9109e4"/>
<polygon points="322.4,278.0 332.5,278.5 330.7,266.1 320.5,267.1" fill="#9309de" stroke="#9309de"/>
<polygon points="312.2,275.5 322.4,278.0 320.5,267.1 310.3,268.6" fill="#950ad6" stroke="#950ad6"/>
<polygon points="302.0,276.7 312.2,275.5 310.3,268.6 300.1,266.2" fill="#980cc8" stroke="#980cc8"/>
<polygon points="291.8,278.4 302.0,276.7 300.1,266.2 289.9,268.4" fill="#990cc5" stroke="#990cc5"/>
<polygon points="281.6,273.4 291.8,278.4 289.9,268.4 279.7,270.4" fill="#9a0dbe" stroke="#9a0dbe"/>
<polygon points="271.4,274.9 281.6,273.4 279.7,270.4 269.5,269.3" fill="#9e0eac" stroke="#9e0eac"/>
<polygon points="261.2,280.0 271.4,274.9 269.5,269.3 259.3,275.1" fill="#9a0cc1" stroke="#9a0cc1"/>
<polygon points="251.0,280.7 261.2,280.0 259.3,275.1 249.1,275.7" fill="#950ad5" stroke="#950ad5"/>
<polygon points="240.8,285.3 251.0,280.7 249.1,275.7 238.9,272.6" fill="#960ad3" stroke="#960ad3"/>
<polygon points="230.6,279.7 240.8,285.3 238.9,272.6 228.7,273.1" fill="#9a0cc1" stroke="#9a0cc1"/>
<polygon points="220.4,280.4 230.6,279.7 228.7,273.1 218.5,282.0" fill="#990cc3" stroke="#990cc3"/>
<polygon points="210.2,282.1 220.4,280.4 218.5,282.0 208.3,275.7" fill="#990cc6" stroke="#990cc6"/>
<polygon points="497.6,226.7 507.8,228.9 505.9,225.9 495.7,223.2" fill="#d25000" stroke="#d25000"/>
<polygon points="487.4,223.1 497.6,226.7 495.7,223.2 485.5,218.3" fill="#d96000" stroke="#d96000"/>
<polygon points="477.2,222.6 487.4,223.1 485.5,218.3 475.3,213.2" fill="#df7200" stroke="#df7200"/>
<polygon points="467.0,221.5 477.2,222.6 475.3,213.2 465.1,213.2" fill="#e37e00" stroke="#e37e00"/>
<polygon points="456.8,219.9 467.0,221.5 465.1,213.2 454.9,214.0" fill="#e58400" stroke="#e58400"/>
<polygon points="446.6,221.4 456.8,219.9 454.9,214.0 444.7,215.2" fill="#e58600" stroke="#e58600"/>
<polygon points="436.4,223.0 446.6,221.4 444.7,215.2 434.5,213.4" fill="#e68800" stroke="#e68800"/>
<polygon points="426.2,227.0 436.4,223.0 434.5,213.4 424.3,201.5" fill="#ea9700" stroke="#ea9700"/>
<polygon points="416.0,260.4 426.2,227.0 424.3,201.5 414.1,247.3" fill="#d24f00" stroke="#d24f00"/>
<polygon points="405.8,266.4 416.0,260.4 414.1,247.3 403.9,250.4" fill="#af1b2e" stroke="#af1b2e"/>
<polygon points="395.6,273.3 405.8,266.4 403.9,250.4 393.7,259.8" fill="#a5137d" stroke="#a5137d"/>
<polygon points="385.4,282.6 395.6,273.3 393.7,259.8 383.5,267.9" fill="#960bd2" stroke="#960bd2"/>
<polygon points="375.2,284.2 385.4,282.6 383.5,267.9 373.3,270.5" fill="#8c07f1" stroke="#8c07f1"/>
<polygon points="365.0,289.1 375.2,284.2 373.3,270.5 363.1,279.2" fill="#8405fd" stroke="#8405fd"/>
<polygon points="354.8,289.5 365.0,289.1 363.1,279.2 352.9,276.4" fill="#8004ff" stroke="#8004ff"/>
<polygon points="344.6,286.0 354.8,289.5 352.9,276.4 342.7,279.2" fill="#8405fd" stroke="#8405fd"/>
<polygon points="334.4,285.2 344.6,286.0 342.7,279.2 332.5,278.5" fill="#8706fa" stroke="#8706fa"/>
<polygon points="324.2,288.7 334.4,285.2 332.5,278.5 322.4,278.0" fill="#8906f8" stroke="#8906f8"/>
<polygon points="314.0,283.8 324.2,288.7 322.4,278.0 312.2,275.5" fill="#8d07ef" stroke="#8d07ef"/>
<polygon points="303.8,284.6 314.0,283.8 312.2,275.5 302.0,276.7" fill="#9209e0" stroke="#9209e0"/>
<polygon points="293.6,282.1 303.8,284.6 302.0,276.7 291.8,278.4" fill="#940adb" stroke="#940adb"/>
<polygon points="283.4,282.0 293.6,282.1 291.8,278.4 281.6,273.4" fill="#990cc5" stroke="#990cc5"/>
<polygon points="273.3,283.0 283.4,282.0 281.6,273.4 271.4,274.9" fill="#9c0db4" stroke="#9c0db4"/>
<polygon points="263.1,284.9 273.3,283.0 271.4,274.9 261.2,280.0" fill="#990cc3" stroke="#990cc3"/>
<polygon points="252.9,285.8 263.1,284.9 261.2,280.0 251.0,280.7" fill="#970bcf" stroke="#970bcf"/>
<polygon points="242.7,289.4 252.9,285.8 251.0,280.7 240.8,285.3" fill="#930adc" stroke="#930adc"/>
<polygon points="232.5,287.5 242.7,289.4 240.8,285.3 230.6,279.7" fill="#950ad6" stroke="#950ad6"/>
<polygon points="222.3,289.0 232.5,287.5 230.6,279.7 220.4,280.4" fill="#9a0cc0" stroke="#9a0cc0"/>
<polygon points="212.1,288.0 222.3,289.0 220.4,280.4 210.2,282.1" fill="#9a0dbd" stroke="#9a0dbd"/>
<polygon points="499.4,234.7 509.6,238.7 507.8,228.9 497.6,226.7" fill="#d14e00" stroke="#d14e00"/>
<polygon points="489.2,228.0 499.4,234.7 497.6,226.7 487.4,223.1" fill="#d96100" stroke="#d96100"/>
<polygon points="479.0,231.6 489.2,228.0 487.4,223.1 477.2,222.6" fill="#dd6c00" stroke="#dd6c00"/>
<polygon points="468.8,233.0 479.0,231.6 477.2,222.6 467.0,221.5" fill="#dd6c00" stroke="#dd6c00"/>
<polygon points="458.6,229.2 468.8,233.0 467.0,221.5 456.8,219.9" fill="#e07600" stroke="#e07600"/>
<polygon points="448.5,235.3 458.6,229.2 456.8,219.9 446.6,221.4" fill="#e17700" stroke="#e17700"/>
<polygon points="438.3,240.7 448.5,235.3 446.6,221.4 436.4,223.0" fill="#dd6c00" stroke="#dd6c00"/>
<polygon points="428.1,238.5 438.3,240.7 436.4,223.0 426.2,227.0" fill="#db6700" stroke="#db6700"/>
<polygon points="417.9,269.5 428.1,238.5 426.2,227.0 416.0,260.4" fill="#c33400" stroke="#c33400"/>
<polygon points="407.7,277.7 417.9,269.5 416.0,260.4 405.8,266.4" fill="#a2118e" stroke="#a2118e"/>
<polygon points="397.5,283.2 407.7,277.7 405.8,266.4 395.6,273.3" fill="#970bce" stroke="#970bce"/>
<polygon points="387.3,288.3 397.5,283.2 395.6,273.3 385.4,282.6" fill="#8a06f5" stroke="#8a06f5"/>
<polygon points="377.1,292.1 387.3,288.3 385.4,282.6 375.2,284.2" fill="#8104ff" stroke="#8104ff"/>
<polygon points="366.9,295.2 377.1,292.1 375.2,284.2 365.0,289.1" fill="#7b03fd" stroke="#7b03fd"/>
<polygon points="356.7,295.8 366.9,295.2 365.0,289.1 354.8,289.5" fill="#7703fa" stroke="#7703fa"/>
<polygon points="346.5,297.6 356.7,295.8 354.8,289.5 344.6,286.0" fill="#7a03fd" stroke="#7a03fd"/>
<polygon points="336.3,297.7 346.5,297.6 344.6,286.0 334.4,285.2" fill="#7e04ff" stroke="#7e04ff"/>
<polygon points="326.1,297.3 336.3,297.7 334.4,285.2 324.2,288.7" fill="#7f04ff" stroke="#7f04ff"/>
<polygon points="315.9,296.0 326.1,297.3 324.2,288.7 314.0,283.8" fill="#8305fe" stroke="#8305fe"/>
<polygon points="305.7,290.5 315.9,296.0 314.0,283.8 303.8,284.6" fill="#8c07f2" stroke="#8c07f2"/>
<polygon points="295.5,288.2 305.7,290.5 303.8,284.6 293.6,282.1" fill="#9309dd" stroke="#9309dd"/>
<polygon points="285.3,293.5 295.5,288.2 293.6,282.1 283.4,282.0" fill="#950ad6" stroke="#950ad6"/>
<polygon points="275.1,291.9 285.3,293.5 283.4,282.0 273.3,283.0" fill="#950ad8" stroke="#950ad8"/>
<polygon points="264.9,292.0 275.1,291.9 273.3,283.0 263.1,284.9" fill="#960ad3" stroke="#960ad3"/>
<polygon points="254.7,292.9 264.9,292.0 263.1,284.9 252.9,285.8" fill="#960ad3" stroke="#960ad3"/>
<polygon points="244.5,294.0 254.7,292.9 252.9,285.8 242.7,289.4" fill="#940ad8" stroke="#940ad8"/>
<polygon points="234.3,294.5 244.5,294.0 242.7,289.4 232.5,287.5" fill="#950ad8" stroke="#950ad8"/>
<polygon points="224.1,296.5 234.3,294.5 232.5,287.5 222.3,289.0" fill="#960ad4" stroke="#960ad4"/>
<polygon points="214.0,299.9 224.1,296.5 222.3,289.0 212.1,288.0" fill="#940ad8" stroke="#940ad8"/>
<polygon points="501.3,243.8 511.5,246.6 509.6,238.7 499.4,234.7" fill="#cd4400" stroke="#cd4400"/>
<polygon points="491.1,240.1 501.3,243.8 499.4,234.7 489.2,228.0" fill="#d55600" stroke="#d55600"/>
<polygon points="480.9,238.2 491.1,240.1 489.2,228.0 479.0,231.6" fill="#d96200" stroke="#d96200"/>
<polygon points="470.7,238.5 480.9,238.2 479.0,231.6 468.8,233.0" fill="#d96200" stroke="#d96200"/>
<polygon points="460.5,242.7 470.7,238.5 468.8,233.0 458.6,229.2" fill="#da6400" stroke="#da6400"/>
<polygon points="450.3,246.5 460.5,242.7 458.6,229.2 448.5,235.3" fill="#d85d00" stroke="#d85d00"/>
<polygon points="440.1,247.4 450.3,246.5 448.5,235.3 438.3,240.7" fill="#d35200" stroke="#d35200"/>
<polygon points="429.9,274.5 440.1,247.4 438.3,240.7 428.1,238.5" fill="#c93c00" stroke="#c93c00"/>
<polygon points="419.7,284.9 429.9,274.5 428.1,238.5 417.9,269.5" fill="#ae1a35" stroke="#ae1a35"/>
<polygon points="409.5,290.9 419.7,284.9 417.9,269.5 407.7,277.7" fill="#950ad6" stroke="#950ad6"/>
<polygon points="399.3,297.5 409.5,290.9 407.7,277.7 397.5,283.2" fill="#8806f8" stroke="#8806f8"/>
<polygon points="389.2,299.4 399.3,297.5 397.5,283.2 387.3,288.3" fill="#7f04ff" stroke="#7f04ff"/>
<polygon points="379.0,305.3 389.2,299.4 387.3,288.3 377.1,292.1" fill="#7703fa" stroke="#7703fa"/>
<polygon points="368.8,305.2 379.0,305.3 377.1,292.1 366.9,295.2" fill="#7102f1" stroke="#7102f1"/>
<polygon points="358.6,305.4 368.8,305.2 366.9,295.2 356.7,295.8" fill="#7102f1" stroke="#7102f1"/>
<polygon points="348.4,307.1 358.6,305.4 356.7,295.8 346.5,297.6" fill="#7102f0" stroke="#7102f0"/>
<polygon points="338.2,309.5 348.4,307.1 346.5,297.6 336.3,297.7" fill="#6f02ed" stroke="#6f02ed"/>
<polygon points="328.0,304.8 338.2,309.5 336.3,297.7 326.1,297.3" fill="#7402f5" stroke="#7402f5"/>
<polygon points="317.8,301.0 328.0,304.8 326.1,297.3 315.9,296.0" fill="#7d03fe" stroke="#7d03fe"/>
<polygon points="307.6,298.9 317.8,301.0 315.9,296.0 305.7,290.5" fill="#8706fb" stroke="#8706fb"/>
<polygon points="297.4,297.6 307.6,298.9 305.7,290.5 295.5,288.2" fill="#8f08ea" stroke="#8f08ea"/>
<polygon points="287.2,298.9 297.4,297.6 295.5,288.2 285.3,293.5" fill="#9008e8" stroke="#9008e8"/>
<polygon points="277.0,299.8 287.2,298.9 285.3,293.5 275.1,291.9" fill="#8f08ec" stroke="#8f08ec"/>
<polygon points="266.8,299.9 277.0,299.8 275.1,291.9 264.9,292.0" fill="#9109e5" stroke="#9109e5"/>
<polygon points="256.6,300.4 266.8,299.9 264.9,292.0 254.7,292.9" fill="#9209e1" stroke="#9209e1"/>
<polygon points="246.4,294.5 256.6,300.4 254.7,292.9 244.5,294.0" fill="#960bd2" stroke="#960bd2"/>
<polygon points="236.2,304.4 246.4,294.5 244.5,294.0 234.3,294.5" fill="#950ad6" stroke="#950ad6"/>
<polygon points="226.0,305.0 236.2,304.4 234.3,294.5 224.1,296.5" fill="#9008e8" stroke="#9008e8"/>
<polygon points="215.8,300.7 226.0,305.0 224.1,296.5 214.0,299.9" fill="#9109e4" stroke="#9109e4"/>
<polygon points="503.2,251.3 513.4,253.3 511.5,246.6 501.3,243.8" fill="#c93e00" stroke="#c93e00"/>
<polygon points="493.0,248.9 503.2,251.3 501.3,243.8 491.1,240.1" fill="#cf4900" stroke="#cf4900"/>
<polygon points="482.8,254.1 493.0,248.9 491.1,240.1 480.9,238.2" fill="#d24f00" stroke="#d24f00"/>
<polygon points="472.6,255.5 482.8,254.1 480.9,238.2 470.7,238.5" fill="#d14d00" stroke="#d14d00"/>
<polygon points="462.4,256.5 472.6,255.5 470.7,238.5 460.5,242.7" fill="#d04b00" stroke="#d04b00"/>
<polygon points="452.2,256.0 462.4,256.5 460.5,242.7 450.3,246.5" fill="#ce4700" stroke="#ce4700"/>
<polygon points="442.0,262.8 452.2,256.0 450.3,246.5 440.1,247.4" fill="#cb4200" stroke="#cb4200"/>
<polygon points="431.8,262.1 442.0,262.8 440.1,247.4 429.9,274.5" fill="#bf2d00" stroke="#bf2d00"/>
<polygon points="421.6,295.3 431.8,262.1 429.9,274.5 419.7,284.9" fill="#a21194" stroke="#a21194"/>
<polygon points="411.4,297.2 421.6,295.3 419.7,284.9 409.5,290.9" fill="#8806f9" stroke="#8806f9"/>
<polygon points="401.2,304.8 411.4,297.2 409.5,290.9 399.3,297.5" fill="#7d04ff" stroke="#7d04ff"/>
<polygon points="391.0,310.4 401.2,304.8 399.3,297.5 389.2,299.4" fill="#7202f2" stroke="#7202f2"/>
<polygon points="380.8,313.8 391.0,310.4 389.2,299.4 379.0,305.3" fill="#6801dd" stroke="#6801dd"/>
<polygon points="370.6,314.9 380.8,313.8 379.0,305.3 368.8,305.2" fill="#6301cf" stroke="#6301cf"/>
<polygon points="360.4,320.3 370.6,314.9 368.8,305.2 358.6,305.4" fill="#6101c8" stroke="#6101c8"/>
<polygon points="350.2,319.5 360.4,320.3 358.6,305.4 348.4,307.1" fill="#5e01c1" stroke="#5e01c1"/>
<polygon points="340.0,314.7 350.2,319.5 348.4,307.1 338.2,309.5" fill="#6301ce" stroke="#6301ce"/>
<polygon points="329.9,309.7 340.0,314.7 338.2,309.5 328.0,304.8" fill="#6f02ec" stroke="#6f02ec"/>
<polygon points="319.7,311.5 329.9,309.7 328.0,304.8 317.8,301.0" fill="#7903fc" stroke="#7903fc"/>
<polygon points="309.5,308.9 319.7,311.5 317.8,301.0 307.6,298.9" fill="#8004ff" stroke="#8004ff"/>
<polygon points="299.3,308.6 309.5,308.9 307.6,298.9 297.4,297.6" fill="#8605fc" stroke="#8605fc"/>
<polygon points="289.1,306.6 299.3,308.6 297.4,297.6 287.2,298.9" fill="#8a06f7" stroke="#8a06f7"/>
<polygon points="278.9,306.1 289.1,306.6 287.2,298.9 277.0,299.8" fill="#8c07f2" stroke="#8c07f2"/>
<polygon points="268.7,306.3 278.9,306.1 277.0,299.8 266.8,299.9" fill="#8d07ee" stroke="#8d07ee"/>
<polygon points="258.5,305.6 268.7,306.3 266.8,299.9 256.6,300.4" fill="#9008e9" stroke="#9008e9"/>
<polygon points="248.3,305.1 258.5,305.6 256.6,300.4 246.4,294.5" fill="#950ad5" stroke="#950ad5"/>
<polygon points="238.1,310.5 248.3,305.1 246.4,294.5 236.2,304.4" fill="#9209e0" stroke="#9209e0"/>
<polygon points="227.9,311.1 238.1,310.5 236.2,304.4 226.0,305.0" fill="#8b07f3" stroke="#8b07f3"/>
<polygon points="217.7,308.6 227.9,311.1 226.0,305.0 215.8,300.7" fill="#9109e5" stroke="#9109e5"/>
<polygon points="505.1,260.4 515.3,259.0 513.4,253.3 503.2,251.3" fill="#c73900" stroke="#c73900"/>
<polygon points="494.9,260.5 505.1,260.4 503.2,251.3 493.0,248.9" fill="#c93e00" stroke="#c93e00"/>
<polygon points="484.7,264.3 494.9,260.5 493.0,248.9 482.8,254.1" fill="#c83c00" stroke="#c83c00"/>
<polygon points="474.5,263.5 484.7,264.3 482.8,254.1 472.6,255.5" fill="#c63800" stroke="#c63800"/>
<polygon points="464.3,261.8 474.5,263.5 472.6,255.5 462.4,256.5" fill="#c83b00" stroke="#c83b00"/>
<polygon points="454.1,266.1 464.3,261.8 462.4,256.5 452.2,256.0" fill="#c83b00" stroke="#c83b00"/>
<polygon points="443.9,270.3 454.1,266.1 452.2,256.0 442.0,262.8" fill="#c33400" stroke="#c33400"/>
<polygon points="433.7,292.7 443.9,270.3 442.0,262.8 431.8,262.1" fill="#b72300" stroke="#b72300"/>
<polygon points="423.5,306.0 433.7,292.7 431.8,262.1 421.6,295.3" fill="#990cc4" stroke="#990cc4"/>
<polygon points="413.3,310.1 423.5,306.0 421.6,295.3 411.4,297.2" fill="#7e04ff" stroke="#7e04ff"/>
<polygon points="403.1,314.3 413.3,310.1 411.4,297.2 401.2,304.8" fill="#7502f6" stroke="#7502f6"/>
<polygon points="392.9,321.2 403.1,314.3 401.2,304.8 391.0,310.4" fill="#6601d7" stroke="#6601d7"/>
<polygon points="382.7,320.6 392.9,321.2 391.0,310.4 380.8,313.8" fill="#5c01bb" stroke="#5c01bb"/>
<polygon points="372.5,326.4 382.7,320.6 380.8,313.8 370.6,314.9" fill="#5700ab" stroke="#5700ab"/>
<polygon points="362.3,329.6 372.5,326.4 370.6,314.9 360.4,320.3" fill="#4c0086" stroke="#4c0086"/>
<polygon points="352.1,322.4 362.3,329.6 360.4,320.3 350.2,319.5" fill="#4f0090" stroke="#4f0090"/>
<polygon points="341.9,322.7 352.1,322.4 350.2,319.5 340.0,314.7" fill="#5e01c0" stroke="#5e01c0"/>
<polygon points="331.7,325.2 341.9,322.7 340.0,314.7 329.9,309.7" fill="#6601d9" stroke="#6601d9"/>
<polygon points="321.5,313.7 331.7,325.2 329.9,309.7 319.7,311.5" fill="#7202f3" stroke="#7202f3"/>
<polygon points="311.3,311.8 321.5,313.7 319.7,311.5 309.5,308.9" fill="#7e04ff" stroke="#7e04ff"/>
<polygon points="301.1,313.2 311.3,311.8 309.5,308.9 299.3,308.6" fill="#8205fe" stroke="#8205fe"/>
<polygon points="290.9,313.4 301.1,313.2 299.3,308.6 289.1,306.6" fill="#8505fc" stroke="#8505fc"/>
<polygon points="280.8,309.1 290.9,313.4 289.1,306.6 278.9,306.1" fill="#8b07f4" stroke="#8b07f4"/>
<polygon points="270.6,311.9 280.8,309.1 278.9,306.1 268.7,306.3" fill="#8e08ed" stroke="#8e08ed"/>
<polygon points="260.4,310.2 270.6,311.9 268.7,306.3 258.5,305.6" fill="#9008e8" stroke="#9008e8"/>
<polygon points="250.2,308.6 260.4,310.2 258.5,305.6 248.3,305.1" fill="#940ad8" stroke="#940ad8"/>
<polygon points="240.0,310.0 250.2,308.6 248.3,305.1 238.1,310.5" fill="#940ada" stroke="#940ada"/>
<polygon points="229.8,312.0 240.0,310.0 238.1,310.5 227.9,311.1" fill="#9109e5" stroke="#9109e5"/>
<polygon points="219.6,308.0 229.8,312.0 227.9,311.1 217.7,308.6" fill="#950ad6" stroke="#950ad6"/>
<polygon points="506.9,271.8 517.1,269.2 515.3,259.0 505.1,260.4" fill="#c13000" stroke="#c13000"/>
<polygon points="496.7,273.1 506.9,271.8 505.1,260.4 494.9,260.5" fill="#c12f00" stroke="#c12f00"/>
<polygon points="486.5,274.4 496.7,273.1 494.9,260.5 484.7,264.3" fill="#bf2e00" stroke="#bf2e00"/>
<polygon points="476.3,275.9 486.5,274.4 484.7,264.3 474.5,263.5" fill="#bf2c00" stroke="#bf2c00"/>
<polygon points="466.1,279.5 476.3,275.9 474.5,263.5 464.3,261.8" fill="#bf2d00" stroke="#bf2d00"/>
<polygon points="456.0,282.7 466.1,279.5 464.3,261.8 454.1,266.1" fill="#bd2a00" stroke="#bd2a00"/>
<polygon points="445.8,283.2 456.0,282.7 454.1,266.1 443.9,270.3" fill="#b92500" stroke="#b92500"/>
<polygon points="435.6,301.6 445.8,283.2 443.9,270.3 433.7,292.7" fill="#a71472" stroke="#a71472"/>
<polygon points="425.4,307.5 435.6,301.6 433.7,292.7 423.5,306.0" fill="#8906f7" stroke="#8906f7"/>
<polygon points="415.2,318.6 425.4,307.5 423.5,306.0 413.3,310.1" fill="#7603f9" stroke="#7603f9"/>
<polygon points="405.0,324.0 415.2,318.6 413.3,310.1 403.1,314.3" fill="#6801db" stroke="#6801db"/>
<polygon points="394.8,333.0 405.0,324.0 403.1,314.3 392.9,321.2" fill="#5500a5" stroke="#5500a5"/>
<polygon points="384.6,330.4 394.8,333.0 392.9,321.2 382.7,320.6" fill="#4d0089" stroke="#4d0089"/>
<polygon points="374.4,337.4 384.6,330.4 382.7,320.6 372.5,326.4" fill="#460076" stroke="#460076"/>
<polygon points="364.2,337.0 374.4,337.4 372.5,326.4 362.3,329.6" fill="#38004b" stroke="#38004b"/>
<polygon points="354.0,335.3 364.2,337.0 362.3,329.6 352.1,322.4" fill="#44006f" stroke="#44006f"/>
<polygon points="343.8,330.3 354.0,335.3 352.1,322.4 341.9,322.7" fill="#5600a7" stroke="#5600a7"/>
<polygon points="333.6,326.9 343.8,330.3 341.9,322.7 331.7,325.2" fill="#5e01c1" stroke="#5e01c1"/>
<polygon points="323.4,323.4 333.6,326.9 331.7,325.2 321.5,313.7" fill="#6d02ea" stroke="#6d02ea"/>
<polygon points="313.2,323.8 323.4,323.4 321.5,313.7 311.3,311.8" fill="#7b03fe" stroke="#7b03fe"/>
<polygon points="303.0,319.1 313.2,323.8 311.3,311.8 301.1,313.2" fill="#8104ff" stroke="#8104ff"/>
<polygon points="292.8,317.0 303.0,319.1 301.1,313.2 290.9,313.4" fill="#8605fc" stroke="#8605fc"/>
<polygon points="282.6,317.7 292.8,317.0 290.9,313.4 280.8,309.1" fill="#8b07f3" stroke="#8b07f3"/>
<polygon points="272.4,314.5 282.6,317.7 280.8,309.1 270.6,311.9" fill="#9008e8" stroke="#9008e8"/>
<polygon points="262.2,317.6 272.4,314.5 270.6,311.9 260.4,310.2" fill="#9109e4" stroke="#9109e4"/>
<polygon points="252.0,312.0 262.2,317.6 260.4,310.2 250.2,308.6" fill="#960bd0" stroke="#960bd0"/>
<polygon points="241.8,310.6 252.0,312.0 250.2,308.6 240.0,310.0" fill="#9c0db5" stroke="#9c0db5"/>
<polygon points="231.6,312.4 241.8,310.6 240.0,310.0 229.8,312.0" fill="#9c0db5" stroke="#9c0db5"/>
<polygon points="221.5,309.1 231.6,312.4 229.8,312.0 219.6,308.0" fill="#a00fa0" stroke="#a00fa0"/>
<polygon points="508.8,284.0 519.0,279.4 517.1,269.2 506.9,271.8" fill="#b82400" stroke="#b82400"/>
<polygon points="498.6,289.2 508.8,284.0 506.9,271.8 496.7,273.1" fill="#b42003" stroke="#b42003"/>
<polygon points="488.4,295.4 498.6,289.2 496.7,273.1 486.5,274.4" fill="#af1b2b" stroke="#af1b2b"/>
<polygon points="478.2,290.6 488.4,295.4 486.5,274.4 476.3,275.9" fill="#af1b2d" stroke="#af1b2d"/>
<polygon points="468.0,294.8 478.2,290.6 476.3,275.9 466.1,279.5" fill="#af1b2f" stroke="#af1b2f"/>
<polygon points="457.8,295.4 468.0,294.8 466.1,279.5 456.0,282.7" fill="#ab184c" stroke="#ab184c"/>
<polygon points="447.6,299.2 457.8,295.4 456.0,282.7 445.8,283.2" fill="#a9165d" stroke="#a9165d"/>
<polygon points="437.4,310.6 447.6,299.2 445.8,283.2 435.6,301.6" fill="#9b0dbd" stroke="#9b0dbd"/>
<polygon points="427.2,317.0 437.4,310.6 435.6,301.6 425.4,307.5" fill="#8605fc" stroke="#8605fc"/>
<polygon points="417.0,329.6 427.2,317.0 425.4,307.5 415.2,318.6" fill="#7102f1" stroke="#7102f1"/>
<polygon points="406.8,328.8 417.0,329.6 415.2,318.6 405.0,324.0" fill="#5e01c1" stroke="#5e01c1"/>
<polygon points="396.7,336.7 406.8,328.8 405.0,324.0 394.8,333.0" fill="#4e008e" stroke="#4e008e"/>
<polygon points="386.5,336.5 396.7,336.7 394.8,333.0 384.6,330.4" fill="#43006b" stroke="#43006b"/>
<polygon points="376.3,337.3 386.5,336.5 384.6,330.4 374.4,337.4" fill="#410067" stroke="#410067"/>
<polygon points="366.1,343.4 376.3,337.3 374.4,337.4 364.2,337.0" fill="#340043" stroke="#340043"/>
<polygon points="355.9,336.5 366.1,343.4 364.2,337.0 354.0,335.3" fill="#3e005b" stroke="#3e005b"/>
<polygon points="345.7,342.3 355.9,336.5 354.0,335.3 343.8,330.3" fill="#4b0084" stroke="#4b0084"/>
<polygon points="335.5,334.9 345.7,342.3 343.8,330.3 333.6,326.9" fill="#5800af" stroke="#5800af"/>
<polygon points="325.3,333.0 335.5,334.9 333.6,326.9 323.4,323.4" fill="#6901de" stroke="#6901de"/>
<polygon points="315.1,336.7 325.3,333.0 323.4,323.4 313.2,323.8" fill="#6c02e7" stroke="#6c02e7"/>
<polygon points="304.9,324.6 315.1,336.7 313.2,323.8 303.0,319.1" fill="#7803fb" stroke="#7803fb"/>
<polygon points="294.7,328.2 304.9,324.6 303.0,319.1 292.8,317.0" fill="#8405fe" stroke="#8405fe"/>
<polygon points="284.5,318.8 294.7,328.2 292.8,317.0 282.6,317.7" fill="#8a06f6" stroke="#8a06f6"/>
<polygon points="274.3,314.9 284.5,318.8 282.6,317.7 272.4,314.5" fill="#950ad6" stroke="#950ad6"/>
<polygon points="264.1,322.5 274.3,314.9 272.4,314.5 262.2,317.6" fill="#950ad6" stroke="#950ad6"/>
<polygon points="253.9,312.5 264.1,322.5 262.2,317.6 252.0,312.0" fill="#9a0cc2" stroke="#9a0cc2"/>
<polygon points="243.7,311.0 253.9,312.5 252.0,312.0 241.8,310.6" fill="#a5127f" stroke="#a5127f"/>
<polygon points="233.5,312.5 243.7,311.0 241.8,310.6 231.6,312.4" fill="#a61473" stroke="#a61473"/>
<polygon points="223.3,309.4 233.5,312.5 231.6,312.4 221.5,309.1" fill="#aa165b" stroke="#aa165b"/></g>
<g class="ax"><line x1="182.0" y1="415.0" x2="519.0" y2="383.7"/>
<line x1="182.0" y1="415.0" x2="122.0" y2="235.0"/>
<line x1="122.0" y1="80.0" x2="122.0" y2="235.0"/>
<text x="183.5" y="430.0" text-anchor="middle">-4</text>
<line x1="230.1" y1="410.5" x2="228.1" y2="404.5"/>
<text x="231.6" y="425.5" text-anchor="middle">-3</text>
<line x1="278.3" y1="406.1" x2="276.3" y2="400.1"/>
<text x="279.8" y="421.1" text-anchor="middle">-2</text>
<line x1="326.4" y1="401.6" x2="324.4" y2="395.6"/>
<text x="327.9" y="416.6" text-anchor="middle">-1</text>
<line x1="374.6" y1="397.1" x2="372.6" y2="391.1"/>
<text x="377.4" y="412.1" text-anchor="middle">0</text>
<line x1="422.7" y1="392.6" x2="420.7" y2="386.6"/>
<text x="425.5" y="407.6" text-anchor="middle">1</text>
<line x1="470.9" y1="388.2" x2="468.9" y2="382.2"/>
<text x="473.7" y="403.2" text-anchor="middle">2</text>
<line x1="519.0" y1="383.7" x2="517.0" y2="377.7"/>
<text x="521.8" y="398.7" text-anchor="middle">3</text>
<text x="174.0" y="422.3" text-anchor="end">-10</text>
<line x1="176.0" y1="397.0" x2="184.0" y2="396.2"/>
<text x="168.0" y="404.3" text-anchor="end">-8</text>
<line x1="170.0" y1="379.0" x2="178.0" y2="378.2"/>
<text x="162.0" y="386.3" text-anchor="end">-6</text>
<line x1="164.0" y1="361.0" x2="172.0" y2="360.2"/>
<text x="156.0" y="368.3" text-anchor="end">-4</text>
<line x1="158.0" y1="343.0" x2="166.0" y2="342.2"/>
<text x="150.0" y="350.3" text-anchor="end">-2</text>
<line x1="152.0" y1="325.0" x2="160.0" y2="324.2"/>
<text x="144.0" y="332.3" text-anchor="end">0</text>
<line x1="146.0" y1="307.0" x2="154.0" y2="306.2"/>
<text x="138.0" y="314.3" text-anchor="end">2</text>
<line x1="140.0" y1="289.0" x2="148.0" y2="288.2"/>
<text x="132.0" y="296.3" text-anchor="end">4</text>
<line x1="134.0" y1="271.0" x2="142.0" y2="270.2"/>
<text x="126.0" y="278.3" text-anchor="end">6</text>
<line x1="128.0" y1="253.0" x2="136.0" y2="252.2"/>
<text x="120.0" y="260.3" text-anchor="end">8</text>
<text x="114.0" y="242.3" text-anchor="end">10</text>
<line x1="122.0" y1="184.0" x2="129.0" y2="184.0"/>
<text x="110.0" y="188.5" text-anchor="end">-10</text>
<line x1="122.0" y1="173.7" x2="129.0" y2="173.7"/>
<text x="110.0" y="178.2" text-anchor="end">-8</text>
<line x1="122.0" y1="163.4" x2="129.0" y2="163.4"/>
<text x="110.0" y="167.9" text-anchor="end">-6</text>
<line x1="122.0" y1="153.1" x2="129.0" y2="153.1"/>
<text x="110.0" y="157.6" text-anchor="end">-4</text>
<line x1="122.0" y1="142.8" x2="129.0" y2="142.8"/>
<text x="110.0" y="147.3" text-anchor="end">-2</text>
<line x1="122.0" y1="132.5" x2="129.0" y2="132.5"/>
<text x="110.0" y="137.0" text-anchor="end">0</text>
<line x1="122.0" y1="122.2" x2="129.0" y2="122.2"/>
<text x="110.0" y="126.7" text-anchor="end">2</text>
<line x1="122.0" y1="111.9" x2="129.0" y2="111.9"/>
<text x="110.0" y="116.4" text-anchor="end">4</text>
<line x1="122.0" y1="101.6" x2="129.0" y2="101.6"/>
<text x="110.0" y="106.1" text-anchor="end">6</text>
<line x1="122.0" y1="91.3" x2="129.0" y2="91.3"/>
<text x="110.0" y="95.8" text-anchor="end">8</text>
<line x1="122.0" y1="81.0" x2="129.0" y2="81.0"/>
<text x="110.0" y="85.5" text-anchor="end">10</text>
<text x="55.0" y="137.0" text-anchor="start">valeur</text>
<text x="61.0" y="337.0" text-anchor="start">vitesse</text>
<text x="339.0" y="443.0" text-anchor="start">position</text></g>
<g class="ax"><rect x="564" y="113.5" width="23" height="154.5" fill="url(#pg)"/>
<text x="594.0" y="272.5" text-anchor="start">-10</text>
<line x1="564" y1="252.6" x2="569" y2="252.6"/>
<line x1="582" y1="252.6" x2="587" y2="252.6"/>
<text x="594.0" y="257.1" text-anchor="start">-8</text>
<line x1="564" y1="237.1" x2="569" y2="237.1"/>
<line x1="582" y1="237.1" x2="587" y2="237.1"/>
<text x="594.0" y="241.6" text-anchor="start">-6</text>
<line x1="564" y1="221.7" x2="569" y2="221.7"/>
<line x1="582" y1="221.7" x2="587" y2="221.7"/>
<text x="594.0" y="226.2" text-anchor="start">-4</text>
<line x1="564" y1="206.2" x2="569" y2="206.2"/>
<line x1="582" y1="206.2" x2="587" y2="206.2"/>
<text x="594.0" y="210.7" text-anchor="start">-2</text>
<line x1="564" y1="190.8" x2="569" y2="190.8"/>
<line x1="582" y1="190.8" x2="587" y2="190.8"/>
<text x="598.0" y="195.2" text-anchor="start">0</text>
<line x1="564" y1="175.3" x2="569" y2="175.3"/>
<line x1="582" y1="175.3" x2="587" y2="175.3"/>
<text x="598.0" y="179.8" text-anchor="start">2</text>
<line x1="564" y1="159.9" x2="569" y2="159.9"/>
<line x1="582" y1="159.9" x2="587" y2="159.9"/>
<text x="598.0" y="164.4" text-anchor="start">4</text>
<line x1="564" y1="144.4" x2="569" y2="144.4"/>
<line x1="582" y1="144.4" x2="587" y2="144.4"/>
<text x="598.0" y="148.9" text-anchor="start">6</text>
<line x1="564" y1="129.0" x2="569" y2="129.0"/>
<line x1="582" y1="129.0" x2="587" y2="129.0"/>
<text x="598.0" y="133.5" text-anchor="start">8</text>
<text x="598.0" y="118.0" text-anchor="start">10</text>
<rect x="563.5" y="113.5" width="23.5" height="154.5" fill="none"/></g>
</svg></body></html>
